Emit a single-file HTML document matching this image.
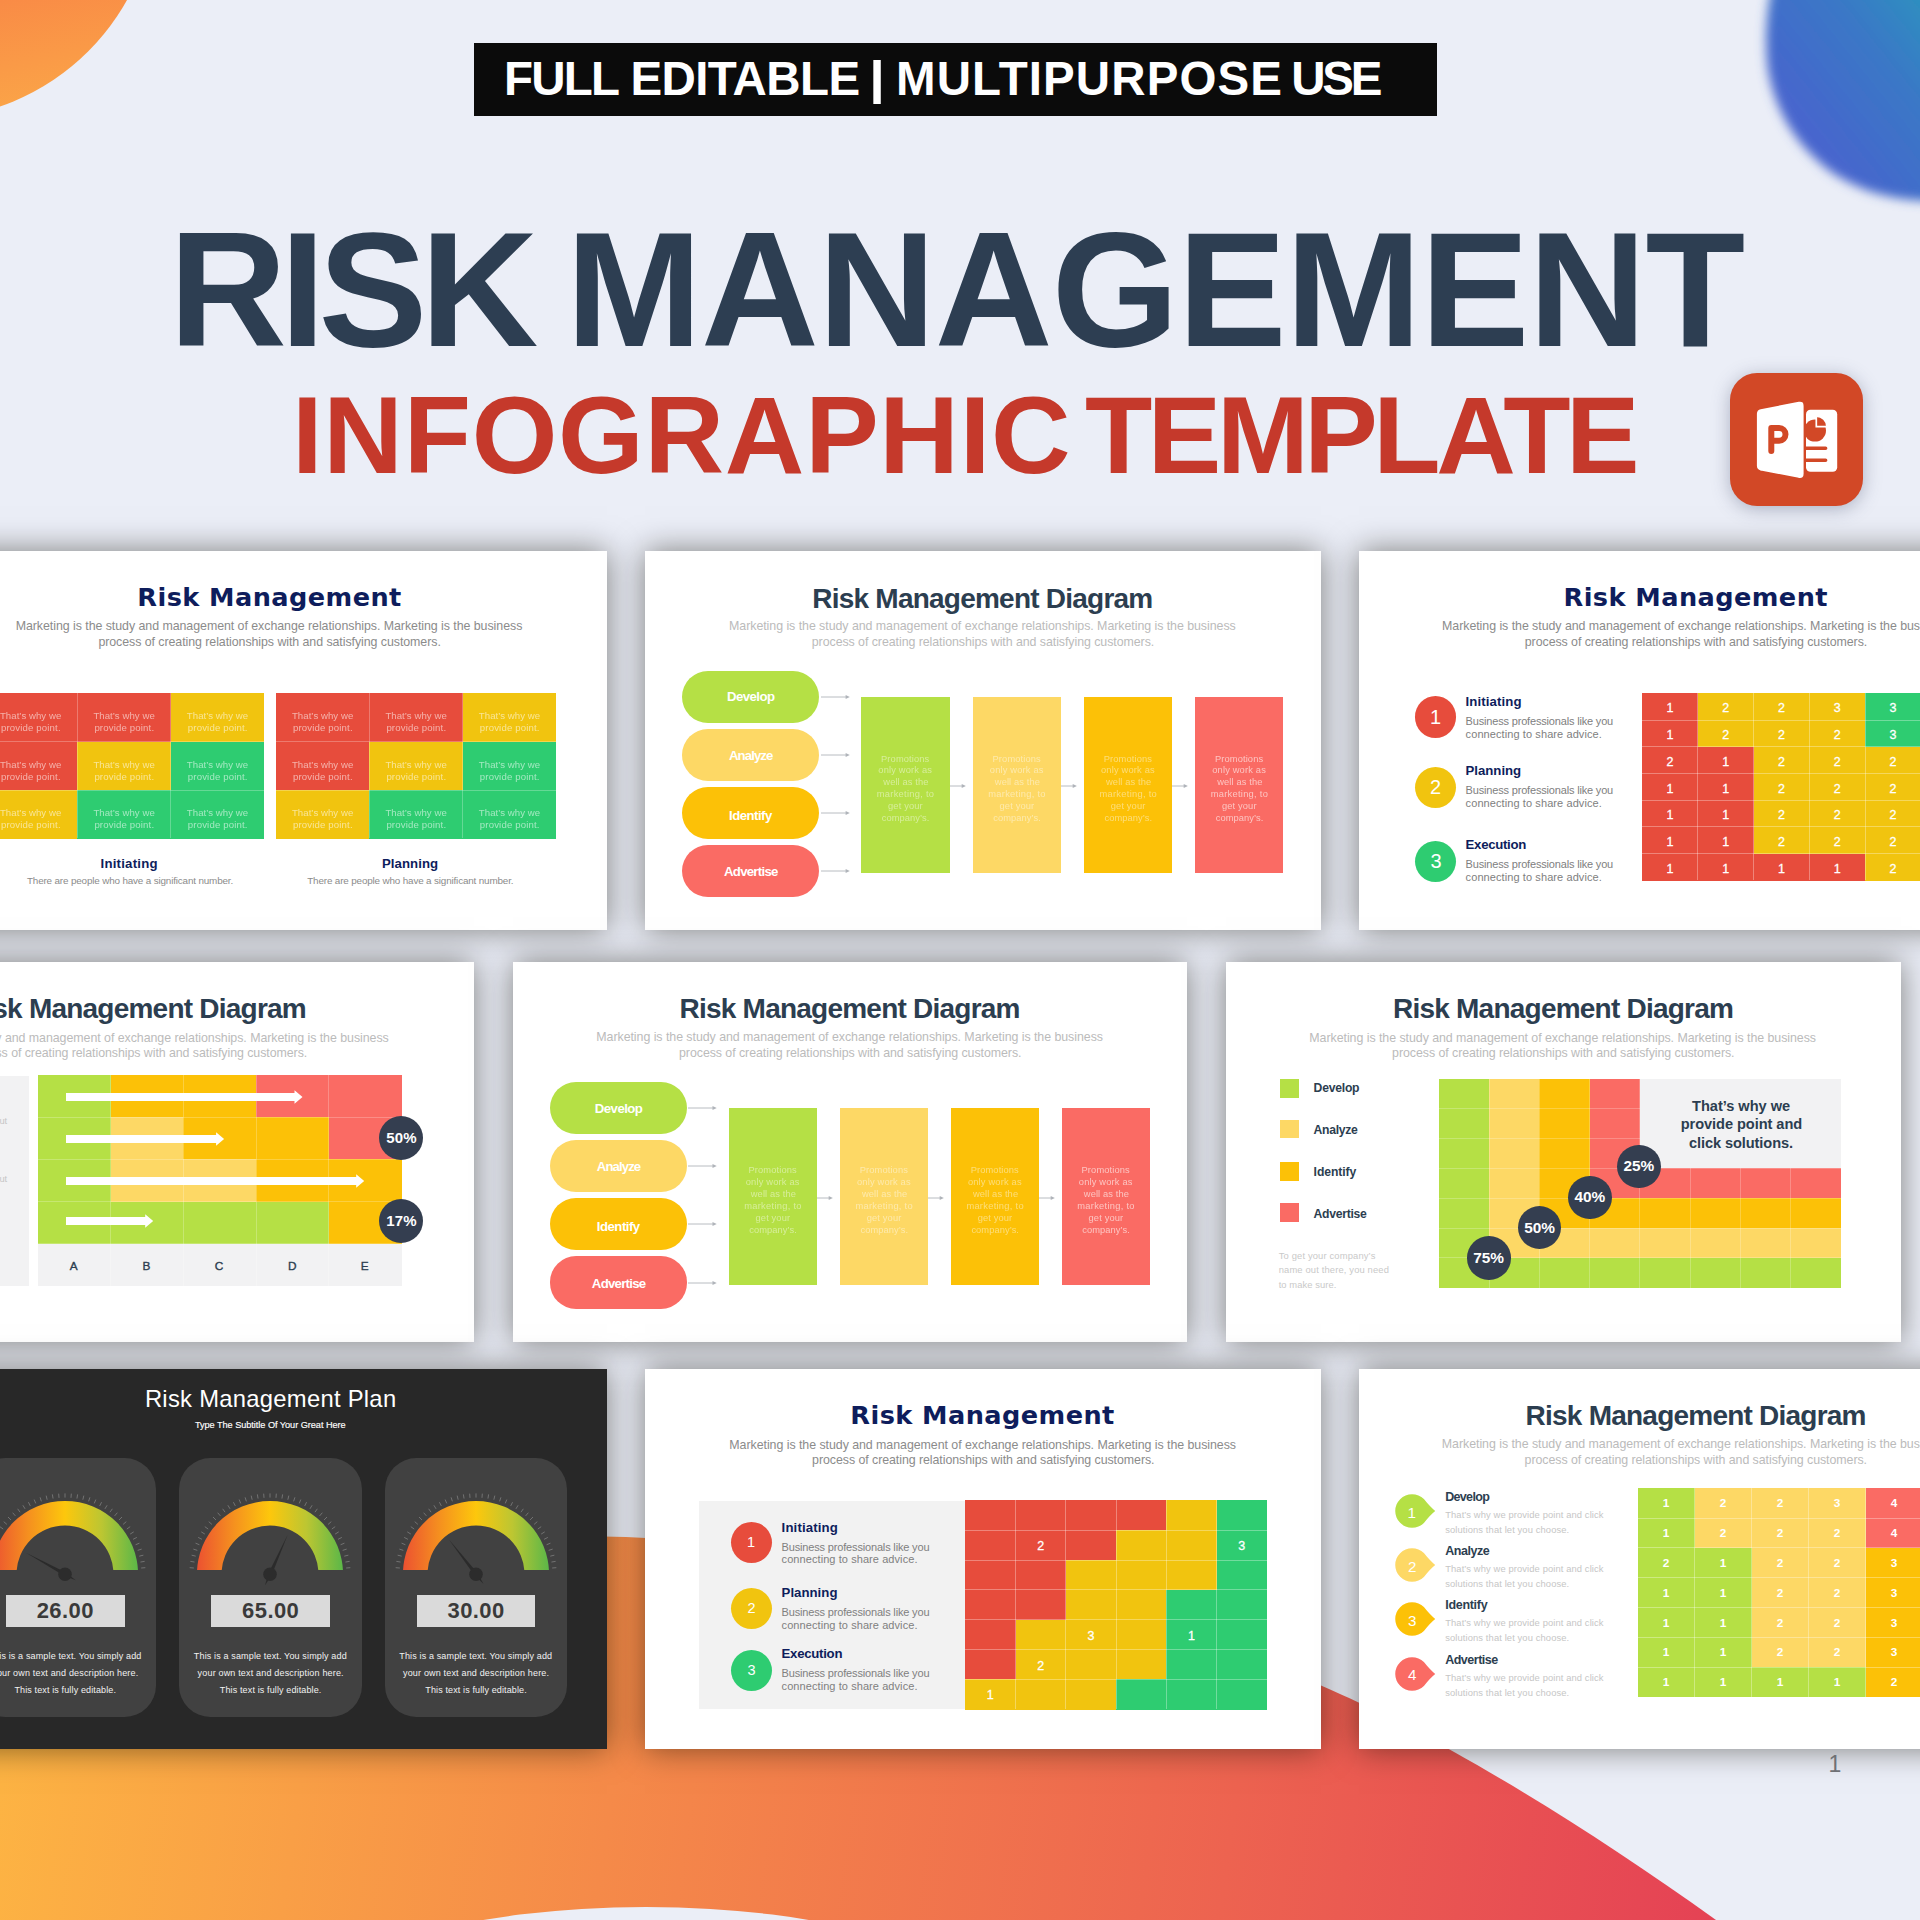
<!DOCTYPE html>
<html lang="en"><head><meta charset="utf-8"><title>Risk Management Infographic Template</title>
<style>
html,body{margin:0;padding:0}
body{width:1920px;height:1920px;overflow:hidden;position:relative;background:#ebeef7;font-family:"Liberation Sans", Arial, sans-serif}
#p{position:absolute;left:0;top:0;width:1920px;height:1920px;overflow:hidden}
#p div,#p svg,#p span{position:absolute;display:block}
.t{white-space:nowrap;line-height:1}
.s{box-shadow:0 0 30px rgba(16,14,4,.5)}
</style></head>
<body><div id="p">
<div style="left:-306px;top:-343.5px;width:462px;height:462px;border-radius:50%;background:linear-gradient(168deg,#f98a46 72%,#fbaa48 98%)"></div>
<svg width="1920" height="1920" viewBox="0 0 1920 1920" style="left:0;top:0">
<defs>
<linearGradient id="gb" x1="0" y1="1" x2="1" y2="0"><stop offset="0.25" stop-color="#4765cd"/><stop offset="0.6" stop-color="#3a78c6"/><stop offset="0.95" stop-color="#279cbc"/></linearGradient>
<linearGradient id="gw" gradientUnits="userSpaceOnUse" x1="0" y1="1700" x2="1750" y2="1950"><stop offset="0" stop-color="#fdb443"/><stop offset="0.35" stop-color="#f58a49"/><stop offset="0.7" stop-color="#ed6350"/><stop offset="1" stop-color="#e43f55"/></linearGradient>
<filter id="bl" x="-20%" y="-20%" width="140%" height="140%"><feGaussianBlur stdDeviation="5.5"/></filter>
</defs>
<path filter="url(#bl)" fill="url(#gb)" d="M1779,-40 C1769,-10 1763,30 1768,70 C1775,110 1794,140 1820,163 C1846,186 1882,199 1925,201 L1960,201 L1960,-40 Z"/>
<path fill="url(#gw)" d="M-10,1600 C200,1545 420,1530 626,1537 C880,1548 1120,1600 1321,1685.5 C1420,1728 1560,1808 1716,1920 L1716,1930 L-10,1930 Z"/>
<ellipse cx="646" cy="2007" rx="330" ry="100" fill="#ebeef7"/>
</svg>
<div style="left:474.00px;top:43.00px;width:962.60px;height:73.00px;background:#0b0b0b;"></div>
<span class="t" style="left:503.90px;top:55.02px;font-size:47.50px;color:#fff;font-weight:700;letter-spacing:-1.778px;">FULL</span>
<span class="t" style="left:630.40px;top:55.02px;font-size:47.50px;color:#fff;font-weight:700;letter-spacing:-0.613px;">EDITABLE</span>
<span class="t" style="left:868.80px;top:55.02px;font-size:46.00px;color:#fff;font-weight:700;transform:scaleX(1.25);transform-origin:0 0;">|</span>
<span class="t" style="left:896.00px;top:55.02px;font-size:47.50px;color:#fff;font-weight:700;letter-spacing:1.103px;">MULTIPURPOSE</span>
<span class="t" style="left:1291.30px;top:55.02px;font-size:47.50px;color:#fff;font-weight:700;letter-spacing:-3.243px;">USE</span>
<span class="t" style="left:169.00px;top:208.02px;font-size:163.20px;color:#2d3e52;font-weight:700;letter-spacing:-6.844px;">RISK</span>
<span class="t" style="left:566.00px;top:208.02px;font-size:163.20px;color:#2d3e52;font-weight:700;letter-spacing:-0.943px;">MANAGEMENT</span>
<span class="t" style="left:292.00px;top:380.02px;font-size:110.20px;color:#c5392b;font-weight:700;letter-spacing:0.726px;">INFOGRAPHIC</span>
<span class="t" style="left:1085.00px;top:380.02px;font-size:110.20px;color:#c5392b;font-weight:700;letter-spacing:-4.442px;">TEMPLATE</span>
<div style="left:1730px;top:372.7px;width:133px;height:133.3px;border-radius:27px;background:#d24826;box-shadow:0 3px 18px rgba(70,80,110,.38)"></div>
<svg width="133" height="134" viewBox="1730 372.7 133 134" style="left:1730px;top:372.7px">
<rect x="1806" y="409.4" width="31.2" height="62" rx="4.5" fill="#fff"/>
<circle cx="1815" cy="430.3" r="11" fill="#d24826"/>
<path d="M1816.3,426.4 V415.8 A10.6,10.6 0 0 1 1826.9,426.4 Z" fill="#d24826" stroke="#fff" stroke-width="1.7"/>
<path d="M1806,447.9 H1825.6 M1806,459.9 H1825.6" stroke="#d24826" stroke-width="3.6" stroke-linecap="round"/>
<path d="M1760.5,408 L1798.5,400.6 Q1804.5,399.6 1804.5,405.6 V473.4 Q1804.5,479.4 1798.5,478.4 L1760.5,471 Q1756,470 1756,465.5 V413.5 Q1756,409 1760.5,408 Z" fill="#fff" stroke="#d24826" stroke-width="1.8"/>
<path d="M1771.3,450.6 V427.6 H1779.1 A6.4,6.4 0 0 1 1779.1,440.4 H1771.3" fill="none" stroke="#d24826" stroke-width="6" stroke-linecap="round" stroke-linejoin="round"/>
</svg>
<div class="s" style="left:-69.20px;top:550.80px;width:676.4px;height:379.5px;background:#fff"></div>
<span class="t" style="left:137.30px;top:585.02px;font-size:25.60px;color:#0e1d5c;font-weight:700;letter-spacing:0.428px;font-family:'DejaVu Sans', 'Liberation Sans', sans-serif;">Risk Management</span>
<span class="t" style="left:15.65px;top:620.02px;font-size:12.40px;color:#8b8b8b;letter-spacing:-0.049px;">Marketing is the study and management of exchange relationships. Marketing is the business</span>
<span class="t" style="left:98.40px;top:636.02px;font-size:12.40px;color:#8b8b8b;letter-spacing:-0.063px;">process of creating relationships with and satisfying customers.</span>
<div style="left:-16.30px;top:693.30px;width:187.20px;height:48.65px;background:#e74c3c;"></div>
<div style="left:170.60px;top:693.30px;width:93.75px;height:48.65px;background:#f1c40f;"></div>
<div style="left:-16.30px;top:741.65px;width:93.75px;height:48.65px;background:#e74c3c;"></div>
<div style="left:77.15px;top:741.65px;width:93.75px;height:48.65px;background:#f1c40f;"></div>
<div style="left:170.60px;top:741.65px;width:93.75px;height:48.65px;background:#2ecc71;"></div>
<div style="left:-16.30px;top:790.00px;width:93.75px;height:48.65px;background:#f1c40f;"></div>
<div style="left:77.15px;top:790.00px;width:187.20px;height:48.65px;background:#2ecc71;"></div>
<div style="left:76.65px;top:693.30px;width:1.00px;height:145.05px;background:rgba(255,255,255,.26);"></div>
<div style="left:170.10px;top:693.30px;width:1.00px;height:145.05px;background:rgba(255,255,255,.26);"></div>
<div style="left:-16.30px;top:741.15px;width:280.35px;height:1.00px;background:rgba(255,255,255,.26);"></div>
<div style="left:-16.30px;top:789.50px;width:280.35px;height:1.00px;background:rgba(255,255,255,.26);"></div>
<span class="t" style="left:-0.08px;top:711.02px;font-size:9.60px;color:#fff;letter-spacing:0.061px;opacity:0.56;">That’s why we</span>
<span class="t" style="left:0.92px;top:723.02px;font-size:9.60px;color:#fff;letter-spacing:0.159px;opacity:0.56;">provide point.</span>
<span class="t" style="left:93.38px;top:711.02px;font-size:9.60px;color:#fff;letter-spacing:0.061px;opacity:0.56;">That’s why we</span>
<span class="t" style="left:94.38px;top:723.02px;font-size:9.60px;color:#fff;letter-spacing:0.159px;opacity:0.56;">provide point.</span>
<span class="t" style="left:186.82px;top:711.02px;font-size:9.60px;color:#fff;letter-spacing:0.061px;opacity:0.56;">That’s why we</span>
<span class="t" style="left:187.82px;top:723.02px;font-size:9.60px;color:#fff;letter-spacing:0.159px;opacity:0.56;">provide point.</span>
<span class="t" style="left:-0.08px;top:760.02px;font-size:9.60px;color:#fff;letter-spacing:0.061px;opacity:0.56;">That’s why we</span>
<span class="t" style="left:0.92px;top:772.02px;font-size:9.60px;color:#fff;letter-spacing:0.159px;opacity:0.56;">provide point.</span>
<span class="t" style="left:93.38px;top:760.02px;font-size:9.60px;color:#fff;letter-spacing:0.061px;opacity:0.56;">That’s why we</span>
<span class="t" style="left:94.38px;top:772.02px;font-size:9.60px;color:#fff;letter-spacing:0.159px;opacity:0.56;">provide point.</span>
<span class="t" style="left:186.82px;top:760.02px;font-size:9.60px;color:#fff;letter-spacing:0.061px;opacity:0.56;">That’s why we</span>
<span class="t" style="left:187.82px;top:772.02px;font-size:9.60px;color:#fff;letter-spacing:0.159px;opacity:0.56;">provide point.</span>
<span class="t" style="left:-0.08px;top:808.02px;font-size:9.60px;color:#fff;letter-spacing:0.061px;opacity:0.56;">That’s why we</span>
<span class="t" style="left:0.92px;top:820.02px;font-size:9.60px;color:#fff;letter-spacing:0.159px;opacity:0.56;">provide point.</span>
<span class="t" style="left:93.38px;top:808.02px;font-size:9.60px;color:#fff;letter-spacing:0.061px;opacity:0.56;">That’s why we</span>
<span class="t" style="left:94.38px;top:820.02px;font-size:9.60px;color:#fff;letter-spacing:0.159px;opacity:0.56;">provide point.</span>
<span class="t" style="left:186.82px;top:808.02px;font-size:9.60px;color:#fff;letter-spacing:0.061px;opacity:0.56;">That’s why we</span>
<span class="t" style="left:187.82px;top:820.02px;font-size:9.60px;color:#fff;letter-spacing:0.159px;opacity:0.56;">provide point.</span>
<div style="left:275.70px;top:693.30px;width:187.20px;height:48.65px;background:#e74c3c;"></div>
<div style="left:462.60px;top:693.30px;width:93.75px;height:48.65px;background:#f1c40f;"></div>
<div style="left:275.70px;top:741.65px;width:93.75px;height:48.65px;background:#e74c3c;"></div>
<div style="left:369.15px;top:741.65px;width:93.75px;height:48.65px;background:#f1c40f;"></div>
<div style="left:462.60px;top:741.65px;width:93.75px;height:48.65px;background:#2ecc71;"></div>
<div style="left:275.70px;top:790.00px;width:93.75px;height:48.65px;background:#f1c40f;"></div>
<div style="left:369.15px;top:790.00px;width:187.20px;height:48.65px;background:#2ecc71;"></div>
<div style="left:368.65px;top:693.30px;width:1.00px;height:145.05px;background:rgba(255,255,255,.26);"></div>
<div style="left:462.10px;top:693.30px;width:1.00px;height:145.05px;background:rgba(255,255,255,.26);"></div>
<div style="left:275.70px;top:741.15px;width:280.35px;height:1.00px;background:rgba(255,255,255,.26);"></div>
<div style="left:275.70px;top:789.50px;width:280.35px;height:1.00px;background:rgba(255,255,255,.26);"></div>
<span class="t" style="left:291.93px;top:711.02px;font-size:9.60px;color:#fff;letter-spacing:0.061px;opacity:0.56;">That’s why we</span>
<span class="t" style="left:292.93px;top:723.02px;font-size:9.60px;color:#fff;letter-spacing:0.159px;opacity:0.56;">provide point.</span>
<span class="t" style="left:385.38px;top:711.02px;font-size:9.60px;color:#fff;letter-spacing:0.061px;opacity:0.56;">That’s why we</span>
<span class="t" style="left:386.38px;top:723.02px;font-size:9.60px;color:#fff;letter-spacing:0.159px;opacity:0.56;">provide point.</span>
<span class="t" style="left:478.82px;top:711.02px;font-size:9.60px;color:#fff;letter-spacing:0.061px;opacity:0.56;">That’s why we</span>
<span class="t" style="left:479.82px;top:723.02px;font-size:9.60px;color:#fff;letter-spacing:0.159px;opacity:0.56;">provide point.</span>
<span class="t" style="left:291.93px;top:760.02px;font-size:9.60px;color:#fff;letter-spacing:0.061px;opacity:0.56;">That’s why we</span>
<span class="t" style="left:292.93px;top:772.02px;font-size:9.60px;color:#fff;letter-spacing:0.159px;opacity:0.56;">provide point.</span>
<span class="t" style="left:385.38px;top:760.02px;font-size:9.60px;color:#fff;letter-spacing:0.061px;opacity:0.56;">That’s why we</span>
<span class="t" style="left:386.38px;top:772.02px;font-size:9.60px;color:#fff;letter-spacing:0.159px;opacity:0.56;">provide point.</span>
<span class="t" style="left:478.82px;top:760.02px;font-size:9.60px;color:#fff;letter-spacing:0.061px;opacity:0.56;">That’s why we</span>
<span class="t" style="left:479.82px;top:772.02px;font-size:9.60px;color:#fff;letter-spacing:0.159px;opacity:0.56;">provide point.</span>
<span class="t" style="left:291.93px;top:808.02px;font-size:9.60px;color:#fff;letter-spacing:0.061px;opacity:0.56;">That’s why we</span>
<span class="t" style="left:292.93px;top:820.02px;font-size:9.60px;color:#fff;letter-spacing:0.159px;opacity:0.56;">provide point.</span>
<span class="t" style="left:385.38px;top:808.02px;font-size:9.60px;color:#fff;letter-spacing:0.061px;opacity:0.56;">That’s why we</span>
<span class="t" style="left:386.38px;top:820.02px;font-size:9.60px;color:#fff;letter-spacing:0.159px;opacity:0.56;">provide point.</span>
<span class="t" style="left:478.82px;top:808.02px;font-size:9.60px;color:#fff;letter-spacing:0.061px;opacity:0.56;">That’s why we</span>
<span class="t" style="left:479.82px;top:820.02px;font-size:9.60px;color:#fff;letter-spacing:0.159px;opacity:0.56;">provide point.</span>
<span class="t" style="left:100.50px;top:857.02px;font-size:13.20px;color:#0e1d5c;font-weight:700;letter-spacing:0.235px;">Initiating</span>
<span class="t" style="left:382.00px;top:857.02px;font-size:13.20px;color:#0e1d5c;font-weight:700;letter-spacing:0.054px;">Planning</span>
<span class="t" style="left:26.95px;top:876.02px;font-size:9.90px;color:#8b8b8b;letter-spacing:-0.159px;">There are people who have a significant number.</span>
<span class="t" style="left:307.25px;top:876.02px;font-size:9.90px;color:#8b8b8b;letter-spacing:-0.159px;">There are people who have a significant number.</span>
<div class="s" style="left:644.80px;top:550.80px;width:676.4px;height:379.5px;background:#fff"></div>
<span class="t" style="left:812.30px;top:585.02px;font-size:28.00px;color:#2c3e50;font-weight:700;letter-spacing:-0.772px;">Risk Management Diagram</span>
<span class="t" style="left:729.05px;top:620.02px;font-size:12.40px;color:#bbbbbb;letter-spacing:-0.049px;">Marketing is the study and management of exchange relationships. Marketing is the business</span>
<span class="t" style="left:811.80px;top:636.02px;font-size:12.40px;color:#bbbbbb;letter-spacing:-0.063px;">process of creating relationships with and satisfying customers.</span>
<div style="left:682.30px;top:670.60px;width:137.00px;height:52.2px;border-radius:26.1px;background:#b5e045"></div>
<span class="t" style="left:727.00px;top:690.02px;font-size:13.20px;color:#fff;font-weight:700;letter-spacing:-0.541px;">Develop</span>
<svg width="30.80" height="8" viewBox="0 0 30.80 8" style="left:820.60px;top:692.70px"><path d="M0,4 H25.80" stroke="#b0b4ba" stroke-width=".9" fill="none"/><path d="M24.60,1.9 L28.80,4 L24.60,6.1 Z" fill="#b0b4ba"/></svg>
<div style="left:682.30px;top:728.70px;width:137.00px;height:52.2px;border-radius:26.1px;background:#fdd865"></div>
<span class="t" style="left:729.00px;top:749.02px;font-size:13.20px;color:#fff;font-weight:700;letter-spacing:-0.918px;">Analyze</span>
<svg width="30.80" height="8" viewBox="0 0 30.80 8" style="left:820.60px;top:750.80px"><path d="M0,4 H25.80" stroke="#b0b4ba" stroke-width=".9" fill="none"/><path d="M24.60,1.9 L28.80,4 L24.60,6.1 Z" fill="#b0b4ba"/></svg>
<div style="left:682.30px;top:786.80px;width:137.00px;height:52.2px;border-radius:26.1px;background:#fcc107"></div>
<span class="t" style="left:729.00px;top:809.02px;font-size:13.20px;color:#fff;font-weight:700;letter-spacing:-0.508px;">Identify</span>
<svg width="30.80" height="8" viewBox="0 0 30.80 8" style="left:820.60px;top:808.90px"><path d="M0,4 H25.80" stroke="#b0b4ba" stroke-width=".9" fill="none"/><path d="M24.60,1.9 L28.80,4 L24.60,6.1 Z" fill="#b0b4ba"/></svg>
<div style="left:682.30px;top:844.90px;width:137.00px;height:52.2px;border-radius:26.1px;background:#fa6b64"></div>
<span class="t" style="left:724.00px;top:865.02px;font-size:13.20px;color:#fff;font-weight:700;letter-spacing:-0.721px;">Advertise</span>
<svg width="30.80" height="8" viewBox="0 0 30.80 8" style="left:820.60px;top:867.00px"><path d="M0,4 H25.80" stroke="#b0b4ba" stroke-width=".9" fill="none"/><path d="M24.60,1.9 L28.80,4 L24.60,6.1 Z" fill="#b0b4ba"/></svg>
<div style="left:861.00px;top:696.80px;width:88.50px;height:176.50px;background:#b5e045;"></div>
<span class="t" style="left:881.05px;top:755.02px;font-size:9.30px;color:#fff;letter-spacing:0.125px;opacity:0.45;">Promotions</span>
<span class="t" style="left:878.30px;top:766.02px;font-size:9.30px;color:#fff;letter-spacing:0.180px;opacity:0.45;">only work as</span>
<span class="t" style="left:883.30px;top:778.02px;font-size:9.30px;color:#fff;letter-spacing:0.125px;opacity:0.45;">well as the</span>
<span class="t" style="left:876.80px;top:790.02px;font-size:9.30px;color:#fff;letter-spacing:0.286px;opacity:0.45;">marketing, to</span>
<span class="t" style="left:888.05px;top:802.02px;font-size:9.30px;color:#fff;letter-spacing:0.143px;opacity:0.45;">get your</span>
<span class="t" style="left:881.80px;top:814.02px;font-size:9.30px;color:#fff;letter-spacing:0.081px;opacity:0.45;">company’s.</span>
<svg width="17.90" height="8" viewBox="0 0 17.90 8" style="left:949.50px;top:782.40px"><path d="M0,4 H12.90" stroke="#b0b4ba" stroke-width=".9" fill="none"/><path d="M11.70,1.9 L15.90,4 L11.70,6.1 Z" fill="#b0b4ba"/></svg>
<div style="left:972.50px;top:696.80px;width:88.50px;height:176.50px;background:#fdd865;"></div>
<span class="t" style="left:992.55px;top:755.02px;font-size:9.30px;color:#fff;letter-spacing:0.125px;opacity:0.45;">Promotions</span>
<span class="t" style="left:989.80px;top:766.02px;font-size:9.30px;color:#fff;letter-spacing:0.180px;opacity:0.45;">only work as</span>
<span class="t" style="left:994.80px;top:778.02px;font-size:9.30px;color:#fff;letter-spacing:0.125px;opacity:0.45;">well as the</span>
<span class="t" style="left:988.30px;top:790.02px;font-size:9.30px;color:#fff;letter-spacing:0.286px;opacity:0.45;">marketing, to</span>
<span class="t" style="left:999.55px;top:802.02px;font-size:9.30px;color:#fff;letter-spacing:0.143px;opacity:0.45;">get your</span>
<span class="t" style="left:993.30px;top:814.02px;font-size:9.30px;color:#fff;letter-spacing:0.081px;opacity:0.45;">company’s.</span>
<svg width="17.90" height="8" viewBox="0 0 17.90 8" style="left:1061.00px;top:782.40px"><path d="M0,4 H12.90" stroke="#b0b4ba" stroke-width=".9" fill="none"/><path d="M11.70,1.9 L15.90,4 L11.70,6.1 Z" fill="#b0b4ba"/></svg>
<div style="left:1083.70px;top:696.80px;width:88.50px;height:176.50px;background:#fcc107;"></div>
<span class="t" style="left:1103.75px;top:755.02px;font-size:9.30px;color:#fff;letter-spacing:0.125px;opacity:0.45;">Promotions</span>
<span class="t" style="left:1101.00px;top:766.02px;font-size:9.30px;color:#fff;letter-spacing:0.180px;opacity:0.45;">only work as</span>
<span class="t" style="left:1106.00px;top:778.02px;font-size:9.30px;color:#fff;letter-spacing:0.125px;opacity:0.45;">well as the</span>
<span class="t" style="left:1099.50px;top:790.02px;font-size:9.30px;color:#fff;letter-spacing:0.286px;opacity:0.45;">marketing, to</span>
<span class="t" style="left:1110.75px;top:802.02px;font-size:9.30px;color:#fff;letter-spacing:0.143px;opacity:0.45;">get your</span>
<span class="t" style="left:1104.50px;top:814.02px;font-size:9.30px;color:#fff;letter-spacing:0.081px;opacity:0.45;">company’s.</span>
<svg width="17.90" height="8" viewBox="0 0 17.90 8" style="left:1172.20px;top:782.40px"><path d="M0,4 H12.90" stroke="#b0b4ba" stroke-width=".9" fill="none"/><path d="M11.70,1.9 L15.90,4 L11.70,6.1 Z" fill="#b0b4ba"/></svg>
<div style="left:1194.90px;top:696.80px;width:88.50px;height:176.50px;background:#fa6b64;"></div>
<span class="t" style="left:1214.95px;top:755.02px;font-size:9.30px;color:#fff;letter-spacing:0.125px;opacity:0.6;">Promotions</span>
<span class="t" style="left:1212.20px;top:766.02px;font-size:9.30px;color:#fff;letter-spacing:0.180px;opacity:0.6;">only work as</span>
<span class="t" style="left:1217.20px;top:778.02px;font-size:9.30px;color:#fff;letter-spacing:0.125px;opacity:0.6;">well as the</span>
<span class="t" style="left:1210.70px;top:790.02px;font-size:9.30px;color:#fff;letter-spacing:0.286px;opacity:0.6;">marketing, to</span>
<span class="t" style="left:1221.95px;top:802.02px;font-size:9.30px;color:#fff;letter-spacing:0.143px;opacity:0.6;">get your</span>
<span class="t" style="left:1215.70px;top:814.02px;font-size:9.30px;color:#fff;letter-spacing:0.081px;opacity:0.6;">company’s.</span>
<div class="s" style="left:1358.90px;top:550.80px;width:676.4px;height:379.5px;background:#fff"></div>
<span class="t" style="left:1563.50px;top:585.02px;font-size:25.60px;color:#0e1d5c;font-weight:700;letter-spacing:0.428px;font-family:'DejaVu Sans', 'Liberation Sans', sans-serif;">Risk Management</span>
<span class="t" style="left:1442.05px;top:620.02px;font-size:12.40px;color:#8b8b8b;letter-spacing:-0.049px;">Marketing is the study and management of exchange relationships. Marketing is the business</span>
<span class="t" style="left:1524.80px;top:636.02px;font-size:12.40px;color:#8b8b8b;letter-spacing:-0.063px;">process of creating relationships with and satisfying customers.</span>
<div style="left:1415.05px;top:696.20px;width:41.4px;height:41.4px;border-radius:50%;background:#e74c3c"></div>
<span class="t" style="left:1429.90px;top:707.02px;font-size:20.00px;color:#fff;">1</span>
<span class="t" style="left:1465.60px;top:695.02px;font-size:13.20px;color:#0e1d5c;font-weight:700;letter-spacing:0.113px;">Initiating</span>
<span class="t" style="left:1465.60px;top:716.02px;font-size:11.00px;color:#808080;letter-spacing:-0.175px;">Business professionals like you</span>
<span class="t" style="left:1465.60px;top:729.02px;font-size:11.00px;color:#808080;letter-spacing:0.090px;">connecting to share advice.</span>
<div style="left:1415.05px;top:766.80px;width:41.4px;height:41.4px;border-radius:50%;background:#f1c40f"></div>
<span class="t" style="left:1429.90px;top:777.02px;font-size:20.00px;color:#fff;">2</span>
<span class="t" style="left:1465.60px;top:764.02px;font-size:13.20px;color:#0e1d5c;font-weight:700;letter-spacing:-0.018px;">Planning</span>
<span class="t" style="left:1465.60px;top:785.02px;font-size:11.00px;color:#808080;letter-spacing:-0.175px;">Business professionals like you</span>
<span class="t" style="left:1465.60px;top:798.02px;font-size:11.00px;color:#808080;letter-spacing:0.090px;">connecting to share advice.</span>
<div style="left:1415.05px;top:840.90px;width:41.4px;height:41.4px;border-radius:50%;background:#2ecc71"></div>
<span class="t" style="left:1430.40px;top:851.02px;font-size:20.00px;color:#fff;">3</span>
<span class="t" style="left:1465.60px;top:838.02px;font-size:13.20px;color:#0e1d5c;font-weight:700;letter-spacing:-0.296px;">Execution</span>
<span class="t" style="left:1465.60px;top:859.02px;font-size:11.00px;color:#808080;letter-spacing:-0.175px;">Business professionals like you</span>
<span class="t" style="left:1465.60px;top:872.02px;font-size:11.00px;color:#808080;letter-spacing:0.090px;">connecting to share advice.</span>
<div style="left:1642.10px;top:693.30px;width:56.08px;height:27.02px;background:#e74c3c;"></div>
<div style="left:1697.88px;top:693.30px;width:167.64px;height:27.02px;background:#f1c40f;"></div>
<div style="left:1865.22px;top:693.30px;width:111.86px;height:27.02px;background:#2ecc71;"></div>
<div style="left:1642.10px;top:720.02px;width:56.08px;height:27.02px;background:#e74c3c;"></div>
<div style="left:1697.88px;top:720.02px;width:167.64px;height:27.02px;background:#f1c40f;"></div>
<div style="left:1865.22px;top:720.02px;width:111.86px;height:27.02px;background:#2ecc71;"></div>
<div style="left:1642.10px;top:746.74px;width:111.86px;height:27.02px;background:#e74c3c;"></div>
<div style="left:1753.66px;top:746.74px;width:167.64px;height:27.02px;background:#f1c40f;"></div>
<div style="left:1921.00px;top:746.74px;width:56.08px;height:27.02px;background:#2ecc71;"></div>
<div style="left:1642.10px;top:773.46px;width:111.86px;height:27.02px;background:#e74c3c;"></div>
<div style="left:1753.66px;top:773.46px;width:167.64px;height:27.02px;background:#f1c40f;"></div>
<div style="left:1921.00px;top:773.46px;width:56.08px;height:27.02px;background:#2ecc71;"></div>
<div style="left:1642.10px;top:800.18px;width:111.86px;height:27.02px;background:#e74c3c;"></div>
<div style="left:1753.66px;top:800.18px;width:167.64px;height:27.02px;background:#f1c40f;"></div>
<div style="left:1921.00px;top:800.18px;width:56.08px;height:27.02px;background:#2ecc71;"></div>
<div style="left:1642.10px;top:826.90px;width:111.86px;height:27.02px;background:#e74c3c;"></div>
<div style="left:1753.66px;top:826.90px;width:167.64px;height:27.02px;background:#f1c40f;"></div>
<div style="left:1921.00px;top:826.90px;width:56.08px;height:27.02px;background:#2ecc71;"></div>
<div style="left:1642.10px;top:853.62px;width:223.42px;height:27.02px;background:#e74c3c;"></div>
<div style="left:1865.22px;top:853.62px;width:111.86px;height:27.02px;background:#f1c40f;"></div>
<div style="left:1697.38px;top:693.30px;width:1.00px;height:187.04px;background:rgba(255,255,255,.32);"></div>
<div style="left:1753.16px;top:693.30px;width:1.00px;height:187.04px;background:rgba(255,255,255,.32);"></div>
<div style="left:1808.94px;top:693.30px;width:1.00px;height:187.04px;background:rgba(255,255,255,.32);"></div>
<div style="left:1864.72px;top:693.30px;width:1.00px;height:187.04px;background:rgba(255,255,255,.32);"></div>
<div style="left:1920.50px;top:693.30px;width:1.00px;height:187.04px;background:rgba(255,255,255,.32);"></div>
<div style="left:1642.10px;top:719.52px;width:334.68px;height:1.00px;background:rgba(255,255,255,.32);"></div>
<div style="left:1642.10px;top:746.24px;width:334.68px;height:1.00px;background:rgba(255,255,255,.32);"></div>
<div style="left:1642.10px;top:772.96px;width:334.68px;height:1.00px;background:rgba(255,255,255,.32);"></div>
<div style="left:1642.10px;top:799.68px;width:334.68px;height:1.00px;background:rgba(255,255,255,.32);"></div>
<div style="left:1642.10px;top:826.40px;width:334.68px;height:1.00px;background:rgba(255,255,255,.32);"></div>
<div style="left:1642.10px;top:853.12px;width:334.68px;height:1.00px;background:rgba(255,255,255,.32);"></div>
<span class="t" style="left:1666.49px;top:702.02px;font-size:12.50px;color:#fff;-webkit-text-stroke:0.3px #fff;">1</span>
<span class="t" style="left:1722.27px;top:702.02px;font-size:12.50px;color:#fff;-webkit-text-stroke:0.3px #fff;">2</span>
<span class="t" style="left:1778.05px;top:702.02px;font-size:12.50px;color:#fff;-webkit-text-stroke:0.3px #fff;">2</span>
<span class="t" style="left:1833.83px;top:702.02px;font-size:12.50px;color:#fff;-webkit-text-stroke:0.3px #fff;">3</span>
<span class="t" style="left:1889.61px;top:702.02px;font-size:12.50px;color:#fff;-webkit-text-stroke:0.3px #fff;">3</span>
<span class="t" style="left:1945.39px;top:702.02px;font-size:12.50px;color:#fff;-webkit-text-stroke:0.3px #fff;">3</span>
<span class="t" style="left:1666.49px;top:729.02px;font-size:12.50px;color:#fff;-webkit-text-stroke:0.3px #fff;">1</span>
<span class="t" style="left:1722.27px;top:729.02px;font-size:12.50px;color:#fff;-webkit-text-stroke:0.3px #fff;">2</span>
<span class="t" style="left:1778.05px;top:729.02px;font-size:12.50px;color:#fff;-webkit-text-stroke:0.3px #fff;">2</span>
<span class="t" style="left:1833.83px;top:729.02px;font-size:12.50px;color:#fff;-webkit-text-stroke:0.3px #fff;">2</span>
<span class="t" style="left:1889.61px;top:729.02px;font-size:12.50px;color:#fff;-webkit-text-stroke:0.3px #fff;">3</span>
<span class="t" style="left:1945.39px;top:729.02px;font-size:12.50px;color:#fff;-webkit-text-stroke:0.3px #fff;">3</span>
<span class="t" style="left:1666.49px;top:756.02px;font-size:12.50px;color:#fff;-webkit-text-stroke:0.3px #fff;">2</span>
<span class="t" style="left:1722.27px;top:756.02px;font-size:12.50px;color:#fff;-webkit-text-stroke:0.3px #fff;">1</span>
<span class="t" style="left:1778.05px;top:756.02px;font-size:12.50px;color:#fff;-webkit-text-stroke:0.3px #fff;">2</span>
<span class="t" style="left:1833.83px;top:756.02px;font-size:12.50px;color:#fff;-webkit-text-stroke:0.3px #fff;">2</span>
<span class="t" style="left:1889.61px;top:756.02px;font-size:12.50px;color:#fff;-webkit-text-stroke:0.3px #fff;">2</span>
<span class="t" style="left:1945.39px;top:756.02px;font-size:12.50px;color:#fff;-webkit-text-stroke:0.3px #fff;">3</span>
<span class="t" style="left:1666.49px;top:783.02px;font-size:12.50px;color:#fff;-webkit-text-stroke:0.3px #fff;">1</span>
<span class="t" style="left:1722.27px;top:783.02px;font-size:12.50px;color:#fff;-webkit-text-stroke:0.3px #fff;">1</span>
<span class="t" style="left:1778.05px;top:783.02px;font-size:12.50px;color:#fff;-webkit-text-stroke:0.3px #fff;">2</span>
<span class="t" style="left:1833.83px;top:783.02px;font-size:12.50px;color:#fff;-webkit-text-stroke:0.3px #fff;">2</span>
<span class="t" style="left:1889.61px;top:783.02px;font-size:12.50px;color:#fff;-webkit-text-stroke:0.3px #fff;">2</span>
<span class="t" style="left:1945.39px;top:783.02px;font-size:12.50px;color:#fff;-webkit-text-stroke:0.3px #fff;">3</span>
<span class="t" style="left:1666.49px;top:809.02px;font-size:12.50px;color:#fff;-webkit-text-stroke:0.3px #fff;">1</span>
<span class="t" style="left:1722.27px;top:809.02px;font-size:12.50px;color:#fff;-webkit-text-stroke:0.3px #fff;">1</span>
<span class="t" style="left:1778.05px;top:809.02px;font-size:12.50px;color:#fff;-webkit-text-stroke:0.3px #fff;">2</span>
<span class="t" style="left:1833.83px;top:809.02px;font-size:12.50px;color:#fff;-webkit-text-stroke:0.3px #fff;">2</span>
<span class="t" style="left:1889.61px;top:809.02px;font-size:12.50px;color:#fff;-webkit-text-stroke:0.3px #fff;">2</span>
<span class="t" style="left:1945.39px;top:809.02px;font-size:12.50px;color:#fff;-webkit-text-stroke:0.3px #fff;">3</span>
<span class="t" style="left:1666.49px;top:836.02px;font-size:12.50px;color:#fff;-webkit-text-stroke:0.3px #fff;">1</span>
<span class="t" style="left:1722.27px;top:836.02px;font-size:12.50px;color:#fff;-webkit-text-stroke:0.3px #fff;">1</span>
<span class="t" style="left:1778.05px;top:836.02px;font-size:12.50px;color:#fff;-webkit-text-stroke:0.3px #fff;">2</span>
<span class="t" style="left:1833.83px;top:836.02px;font-size:12.50px;color:#fff;-webkit-text-stroke:0.3px #fff;">2</span>
<span class="t" style="left:1889.61px;top:836.02px;font-size:12.50px;color:#fff;-webkit-text-stroke:0.3px #fff;">2</span>
<span class="t" style="left:1945.39px;top:836.02px;font-size:12.50px;color:#fff;-webkit-text-stroke:0.3px #fff;">3</span>
<span class="t" style="left:1666.49px;top:863.02px;font-size:12.50px;color:#fff;-webkit-text-stroke:0.3px #fff;">1</span>
<span class="t" style="left:1722.27px;top:863.02px;font-size:12.50px;color:#fff;-webkit-text-stroke:0.3px #fff;">1</span>
<span class="t" style="left:1778.05px;top:863.02px;font-size:12.50px;color:#fff;-webkit-text-stroke:0.3px #fff;">1</span>
<span class="t" style="left:1833.83px;top:863.02px;font-size:12.50px;color:#fff;-webkit-text-stroke:0.3px #fff;">1</span>
<span class="t" style="left:1889.61px;top:863.02px;font-size:12.50px;color:#fff;-webkit-text-stroke:0.3px #fff;">2</span>
<span class="t" style="left:1945.39px;top:863.02px;font-size:12.50px;color:#fff;-webkit-text-stroke:0.3px #fff;">2</span>
<div class="s" style="left:-202.40px;top:961.60px;width:676.4px;height:380.3px;background:#fff"></div>
<span class="t" style="left:-34.20px;top:995.02px;font-size:28.00px;color:#2c3e50;font-weight:700;letter-spacing:-0.772px;">Risk Management Diagram</span>
<span class="t" style="left:-117.95px;top:1032.02px;font-size:12.40px;color:#bbbbbb;letter-spacing:-0.049px;">Marketing is the study and management of exchange relationships. Marketing is the business</span>
<span class="t" style="left:-35.20px;top:1047.02px;font-size:12.40px;color:#bbbbbb;letter-spacing:-0.063px;">process of creating relationships with and satisfying customers.</span>
<div style="left:-162.40px;top:1075.80px;width:191.60px;height:210.10px;background:#f2f2f3;"></div>
<span class="t" style="left:-114.61px;top:1117.02px;font-size:9.30px;color:#c6c6c6;">get your company’s name out</span>
<span class="t" style="left:-114.61px;top:1175.02px;font-size:9.30px;color:#c6c6c6;">get your company’s name out</span>
<div style="left:38.00px;top:1075.00px;width:73.00px;height:42.50px;background:#b5e045;"></div>
<div style="left:110.70px;top:1075.00px;width:145.70px;height:42.50px;background:#fcc107;"></div>
<div style="left:256.10px;top:1075.00px;width:145.70px;height:42.50px;background:#fa6b64;"></div>
<div style="left:38.00px;top:1117.20px;width:73.00px;height:42.50px;background:#b5e045;"></div>
<div style="left:110.70px;top:1117.20px;width:73.00px;height:42.50px;background:#fdd865;"></div>
<div style="left:183.40px;top:1117.20px;width:145.70px;height:42.50px;background:#fcc107;"></div>
<div style="left:328.80px;top:1117.20px;width:73.00px;height:42.50px;background:#fa6b64;"></div>
<div style="left:38.00px;top:1159.40px;width:73.00px;height:42.50px;background:#b5e045;"></div>
<div style="left:110.70px;top:1159.40px;width:145.70px;height:42.50px;background:#fdd865;"></div>
<div style="left:256.10px;top:1159.40px;width:145.70px;height:42.50px;background:#fcc107;"></div>
<div style="left:38.00px;top:1201.60px;width:291.10px;height:42.50px;background:#b5e045;"></div>
<div style="left:328.80px;top:1201.60px;width:73.00px;height:42.50px;background:#fcc107;"></div>
<div style="left:38.00px;top:1243.80px;width:363.80px;height:42.50px;background:#f2f2f3;"></div>
<div style="left:110.20px;top:1075.00px;width:1.00px;height:211.00px;background:rgba(255,255,255,.23);"></div>
<div style="left:182.90px;top:1075.00px;width:1.00px;height:211.00px;background:rgba(255,255,255,.23);"></div>
<div style="left:255.60px;top:1075.00px;width:1.00px;height:211.00px;background:rgba(255,255,255,.23);"></div>
<div style="left:328.30px;top:1075.00px;width:1.00px;height:211.00px;background:rgba(255,255,255,.23);"></div>
<div style="left:38.00px;top:1116.70px;width:363.50px;height:1.00px;background:rgba(255,255,255,.23);"></div>
<div style="left:38.00px;top:1158.90px;width:363.50px;height:1.00px;background:rgba(255,255,255,.23);"></div>
<div style="left:38.00px;top:1201.10px;width:363.50px;height:1.00px;background:rgba(255,255,255,.23);"></div>
<div style="left:38.00px;top:1243.30px;width:363.50px;height:1.00px;background:rgba(255,255,255,.23);"></div>
<svg width="320" height="16" viewBox="0 0 320 16" style="left:66.40px;top:1089.40px"><path d="M0,4.1 H228.5 V1.2 L236.5,8 L228.5,14.8 V11.9 H0 Z" fill="#fff"/></svg>
<svg width="320" height="16" viewBox="0 0 320 16" style="left:66.40px;top:1130.60px"><path d="M0,4.1 H150.1 V1.2 L158.1,8 L150.1,14.8 V11.9 H0 Z" fill="#fff"/></svg>
<svg width="320" height="16" viewBox="0 0 320 16" style="left:66.40px;top:1173.00px"><path d="M0,4.1 H290.2 V1.2 L298.2,8 L290.2,14.8 V11.9 H0 Z" fill="#fff"/></svg>
<svg width="320" height="16" viewBox="0 0 320 16" style="left:66.40px;top:1213.00px"><path d="M0,4.1 H79.2 V1.2 L87.2,8 L79.2,14.8 V11.9 H0 Z" fill="#fff"/></svg>
<div style="left:379.30px;top:1116.00px;width:44px;height:44px;border-radius:50%;background:#343e50"></div>
<span class="t" style="left:386.30px;top:1130.02px;font-size:15.00px;color:#fff;font-weight:700;letter-spacing:0.158px;">50%</span>
<div style="left:379.30px;top:1199.00px;width:44px;height:44px;border-radius:50%;background:#343e50"></div>
<span class="t" style="left:386.30px;top:1213.02px;font-size:15.00px;color:#fff;font-weight:700;letter-spacing:0.158px;">17%</span>
<span class="t" style="left:69.85px;top:1261.02px;font-size:11.80px;color:#2c3e50;-webkit-text-stroke:0.35px #2c3e50;">A</span>
<span class="t" style="left:142.55px;top:1261.02px;font-size:11.80px;color:#2c3e50;-webkit-text-stroke:0.35px #2c3e50;">B</span>
<span class="t" style="left:214.75px;top:1261.02px;font-size:11.80px;color:#2c3e50;-webkit-text-stroke:0.35px #2c3e50;">C</span>
<span class="t" style="left:287.95px;top:1261.02px;font-size:11.80px;color:#2c3e50;-webkit-text-stroke:0.35px #2c3e50;">D</span>
<span class="t" style="left:360.65px;top:1261.02px;font-size:11.80px;color:#2c3e50;-webkit-text-stroke:0.35px #2c3e50;">E</span>
<div class="s" style="left:512.90px;top:961.60px;width:674.5px;height:380.3px;background:#fff"></div>
<span class="t" style="left:679.56px;top:995.02px;font-size:28.00px;color:#2c3e50;font-weight:700;letter-spacing:-0.772px;">Risk Management Diagram</span>
<span class="t" style="left:596.31px;top:1031.02px;font-size:12.40px;color:#bbbbbb;letter-spacing:-0.049px;">Marketing is the study and management of exchange relationships. Marketing is the business</span>
<span class="t" style="left:679.06px;top:1047.02px;font-size:12.40px;color:#bbbbbb;letter-spacing:-0.063px;">process of creating relationships with and satisfying customers.</span>
<div style="left:550.31px;top:1082.10px;width:136.66px;height:52.2px;border-radius:26.1px;background:#b5e045"></div>
<span class="t" style="left:594.83px;top:1102.02px;font-size:13.20px;color:#fff;font-weight:700;letter-spacing:-0.541px;">Develop</span>
<svg width="30.73" height="8" viewBox="0 0 30.73 8" style="left:688.26px;top:1104.20px"><path d="M0,4 H25.73" stroke="#b0b4ba" stroke-width=".9" fill="none"/><path d="M24.53,1.9 L28.73,4 L24.53,6.1 Z" fill="#b0b4ba"/></svg>
<div style="left:550.31px;top:1140.20px;width:136.66px;height:52.2px;border-radius:26.1px;background:#fdd865"></div>
<span class="t" style="left:596.83px;top:1160.02px;font-size:13.20px;color:#fff;font-weight:700;letter-spacing:-0.918px;">Analyze</span>
<svg width="30.73" height="8" viewBox="0 0 30.73 8" style="left:688.26px;top:1162.30px"><path d="M0,4 H25.73" stroke="#b0b4ba" stroke-width=".9" fill="none"/><path d="M24.53,1.9 L28.73,4 L24.53,6.1 Z" fill="#b0b4ba"/></svg>
<div style="left:550.31px;top:1198.30px;width:136.66px;height:52.2px;border-radius:26.1px;background:#fcc107"></div>
<span class="t" style="left:596.83px;top:1220.02px;font-size:13.20px;color:#fff;font-weight:700;letter-spacing:-0.508px;">Identify</span>
<svg width="30.73" height="8" viewBox="0 0 30.73 8" style="left:688.26px;top:1220.40px"><path d="M0,4 H25.73" stroke="#b0b4ba" stroke-width=".9" fill="none"/><path d="M24.53,1.9 L28.73,4 L24.53,6.1 Z" fill="#b0b4ba"/></svg>
<div style="left:550.31px;top:1256.40px;width:136.66px;height:52.2px;border-radius:26.1px;background:#fa6b64"></div>
<span class="t" style="left:591.83px;top:1277.02px;font-size:13.20px;color:#fff;font-weight:700;letter-spacing:-0.721px;">Advertise</span>
<svg width="30.73" height="8" viewBox="0 0 30.73 8" style="left:688.26px;top:1278.50px"><path d="M0,4 H25.73" stroke="#b0b4ba" stroke-width=".9" fill="none"/><path d="M24.53,1.9 L28.73,4 L24.53,6.1 Z" fill="#b0b4ba"/></svg>
<div style="left:728.56px;top:1108.30px;width:88.28px;height:176.50px;background:#b5e045;"></div>
<span class="t" style="left:748.50px;top:1166.02px;font-size:9.30px;color:#fff;letter-spacing:0.125px;opacity:0.45;">Promotions</span>
<span class="t" style="left:745.75px;top:1178.02px;font-size:9.30px;color:#fff;letter-spacing:0.180px;opacity:0.45;">only work as</span>
<span class="t" style="left:750.75px;top:1190.02px;font-size:9.30px;color:#fff;letter-spacing:0.125px;opacity:0.45;">well as the</span>
<span class="t" style="left:744.25px;top:1202.02px;font-size:9.30px;color:#fff;letter-spacing:0.286px;opacity:0.45;">marketing, to</span>
<span class="t" style="left:755.50px;top:1214.02px;font-size:9.30px;color:#fff;letter-spacing:0.143px;opacity:0.45;">get your</span>
<span class="t" style="left:749.25px;top:1226.02px;font-size:9.30px;color:#fff;letter-spacing:0.081px;opacity:0.45;">company’s.</span>
<svg width="17.86" height="8" viewBox="0 0 17.86 8" style="left:816.84px;top:1193.90px"><path d="M0,4 H12.86" stroke="#b0b4ba" stroke-width=".9" fill="none"/><path d="M11.66,1.9 L15.86,4 L11.66,6.1 Z" fill="#b0b4ba"/></svg>
<div style="left:839.78px;top:1108.30px;width:88.28px;height:176.50px;background:#fdd865;"></div>
<span class="t" style="left:859.72px;top:1166.02px;font-size:9.30px;color:#fff;letter-spacing:0.125px;opacity:0.45;">Promotions</span>
<span class="t" style="left:856.97px;top:1178.02px;font-size:9.30px;color:#fff;letter-spacing:0.180px;opacity:0.45;">only work as</span>
<span class="t" style="left:861.97px;top:1190.02px;font-size:9.30px;color:#fff;letter-spacing:0.125px;opacity:0.45;">well as the</span>
<span class="t" style="left:855.47px;top:1202.02px;font-size:9.30px;color:#fff;letter-spacing:0.286px;opacity:0.45;">marketing, to</span>
<span class="t" style="left:866.72px;top:1214.02px;font-size:9.30px;color:#fff;letter-spacing:0.143px;opacity:0.45;">get your</span>
<span class="t" style="left:860.47px;top:1226.02px;font-size:9.30px;color:#fff;letter-spacing:0.081px;opacity:0.45;">company’s.</span>
<svg width="17.86" height="8" viewBox="0 0 17.86 8" style="left:928.06px;top:1193.90px"><path d="M0,4 H12.86" stroke="#b0b4ba" stroke-width=".9" fill="none"/><path d="M11.66,1.9 L15.86,4 L11.66,6.1 Z" fill="#b0b4ba"/></svg>
<div style="left:950.70px;top:1108.30px;width:88.28px;height:176.50px;background:#fcc107;"></div>
<span class="t" style="left:970.64px;top:1166.02px;font-size:9.30px;color:#fff;letter-spacing:0.125px;opacity:0.45;">Promotions</span>
<span class="t" style="left:967.89px;top:1178.02px;font-size:9.30px;color:#fff;letter-spacing:0.180px;opacity:0.45;">only work as</span>
<span class="t" style="left:972.89px;top:1190.02px;font-size:9.30px;color:#fff;letter-spacing:0.125px;opacity:0.45;">well as the</span>
<span class="t" style="left:966.39px;top:1202.02px;font-size:9.30px;color:#fff;letter-spacing:0.286px;opacity:0.45;">marketing, to</span>
<span class="t" style="left:977.64px;top:1214.02px;font-size:9.30px;color:#fff;letter-spacing:0.143px;opacity:0.45;">get your</span>
<span class="t" style="left:971.39px;top:1226.02px;font-size:9.30px;color:#fff;letter-spacing:0.081px;opacity:0.45;">company’s.</span>
<svg width="17.86" height="8" viewBox="0 0 17.86 8" style="left:1038.98px;top:1193.90px"><path d="M0,4 H12.86" stroke="#b0b4ba" stroke-width=".9" fill="none"/><path d="M11.66,1.9 L15.86,4 L11.66,6.1 Z" fill="#b0b4ba"/></svg>
<div style="left:1061.62px;top:1108.30px;width:88.28px;height:176.50px;background:#fa6b64;"></div>
<span class="t" style="left:1081.56px;top:1166.02px;font-size:9.30px;color:#fff;letter-spacing:0.125px;opacity:0.6;">Promotions</span>
<span class="t" style="left:1078.81px;top:1178.02px;font-size:9.30px;color:#fff;letter-spacing:0.180px;opacity:0.6;">only work as</span>
<span class="t" style="left:1083.81px;top:1190.02px;font-size:9.30px;color:#fff;letter-spacing:0.125px;opacity:0.6;">well as the</span>
<span class="t" style="left:1077.31px;top:1202.02px;font-size:9.30px;color:#fff;letter-spacing:0.286px;opacity:0.6;">marketing, to</span>
<span class="t" style="left:1088.56px;top:1214.02px;font-size:9.30px;color:#fff;letter-spacing:0.143px;opacity:0.6;">get your</span>
<span class="t" style="left:1082.31px;top:1226.02px;font-size:9.30px;color:#fff;letter-spacing:0.081px;opacity:0.6;">company’s.</span>
<div class="s" style="left:1225.50px;top:961.60px;width:675.3px;height:380.3px;background:#fff"></div>
<span class="t" style="left:1393.00px;top:995.02px;font-size:28.00px;color:#2c3e50;font-weight:700;letter-spacing:-0.772px;">Risk Management Diagram</span>
<span class="t" style="left:1309.35px;top:1032.02px;font-size:12.40px;color:#bbbbbb;letter-spacing:-0.049px;">Marketing is the study and management of exchange relationships. Marketing is the business</span>
<span class="t" style="left:1392.10px;top:1047.02px;font-size:12.40px;color:#bbbbbb;letter-spacing:-0.063px;">process of creating relationships with and satisfying customers.</span>
<div style="left:1279.90px;top:1079.40px;width:18.80px;height:18.80px;background:#b5e045;"></div>
<span class="t" style="left:1313.60px;top:1082.02px;font-size:12.20px;color:#2c3e50;font-weight:700;letter-spacing:-0.244px;">Develop</span>
<div style="left:1279.90px;top:1119.70px;width:18.80px;height:18.80px;background:#fdd865;"></div>
<span class="t" style="left:1313.60px;top:1124.02px;font-size:12.20px;color:#2c3e50;font-weight:700;letter-spacing:-0.297px;">Analyze</span>
<div style="left:1279.90px;top:1161.90px;width:18.80px;height:18.80px;background:#fcc107;"></div>
<span class="t" style="left:1313.60px;top:1166.02px;font-size:12.20px;color:#2c3e50;font-weight:700;letter-spacing:-0.080px;">Identify</span>
<div style="left:1279.90px;top:1203.10px;width:18.80px;height:18.80px;background:#fa6b64;"></div>
<span class="t" style="left:1313.60px;top:1208.02px;font-size:12.20px;color:#2c3e50;font-weight:700;letter-spacing:-0.283px;">Advertise</span>
<span class="t" style="left:1278.70px;top:1251.02px;font-size:9.40px;color:#c9c9c9;letter-spacing:0.153px;">To get your company’s</span>
<span class="t" style="left:1278.70px;top:1265.02px;font-size:9.40px;color:#c9c9c9;letter-spacing:0.146px;">name out there, you need</span>
<span class="t" style="left:1278.70px;top:1280.02px;font-size:9.40px;color:#c9c9c9;letter-spacing:0.067px;">to make sure.</span>
<div style="left:1438.80px;top:1079.00px;width:50.55px;height:30.10px;background:#b5e045;"></div>
<div style="left:1489.05px;top:1079.00px;width:50.55px;height:30.10px;background:#fdd865;"></div>
<div style="left:1539.30px;top:1079.00px;width:50.55px;height:30.10px;background:#fcc107;"></div>
<div style="left:1589.55px;top:1079.00px;width:50.55px;height:30.10px;background:#fa6b64;"></div>
<div style="left:1639.80px;top:1079.00px;width:201.30px;height:30.10px;background:#f2f2f3;"></div>
<div style="left:1438.80px;top:1108.80px;width:50.55px;height:30.10px;background:#b5e045;"></div>
<div style="left:1489.05px;top:1108.80px;width:50.55px;height:30.10px;background:#fdd865;"></div>
<div style="left:1539.30px;top:1108.80px;width:50.55px;height:30.10px;background:#fcc107;"></div>
<div style="left:1589.55px;top:1108.80px;width:50.55px;height:30.10px;background:#fa6b64;"></div>
<div style="left:1639.80px;top:1108.80px;width:201.30px;height:30.10px;background:#f2f2f3;"></div>
<div style="left:1438.80px;top:1138.60px;width:50.55px;height:30.10px;background:#b5e045;"></div>
<div style="left:1489.05px;top:1138.60px;width:50.55px;height:30.10px;background:#fdd865;"></div>
<div style="left:1539.30px;top:1138.60px;width:50.55px;height:30.10px;background:#fcc107;"></div>
<div style="left:1589.55px;top:1138.60px;width:50.55px;height:30.10px;background:#fa6b64;"></div>
<div style="left:1639.80px;top:1138.60px;width:201.30px;height:30.10px;background:#f2f2f3;"></div>
<div style="left:1438.80px;top:1168.40px;width:50.55px;height:30.10px;background:#b5e045;"></div>
<div style="left:1489.05px;top:1168.40px;width:50.55px;height:30.10px;background:#fdd865;"></div>
<div style="left:1539.30px;top:1168.40px;width:50.55px;height:30.10px;background:#fcc107;"></div>
<div style="left:1589.55px;top:1168.40px;width:251.55px;height:30.10px;background:#fa6b64;"></div>
<div style="left:1438.80px;top:1198.20px;width:50.55px;height:30.10px;background:#b5e045;"></div>
<div style="left:1489.05px;top:1198.20px;width:50.55px;height:30.10px;background:#fdd865;"></div>
<div style="left:1539.30px;top:1198.20px;width:301.80px;height:30.10px;background:#fcc107;"></div>
<div style="left:1438.80px;top:1228.00px;width:50.55px;height:30.10px;background:#b5e045;"></div>
<div style="left:1489.05px;top:1228.00px;width:352.05px;height:30.10px;background:#fdd865;"></div>
<div style="left:1438.80px;top:1257.80px;width:402.30px;height:30.10px;background:#b5e045;"></div>
<div style="left:1488.55px;top:1079.00px;width:1.00px;height:208.60px;background:rgba(255,255,255,.23);"></div>
<div style="left:1538.80px;top:1079.00px;width:1.00px;height:208.60px;background:rgba(255,255,255,.23);"></div>
<div style="left:1589.05px;top:1079.00px;width:1.00px;height:208.60px;background:rgba(255,255,255,.23);"></div>
<div style="left:1639.30px;top:1079.00px;width:1.00px;height:208.60px;background:rgba(255,255,255,.23);"></div>
<div style="left:1689.55px;top:1079.00px;width:1.00px;height:208.60px;background:rgba(255,255,255,.23);"></div>
<div style="left:1739.80px;top:1079.00px;width:1.00px;height:208.60px;background:rgba(255,255,255,.23);"></div>
<div style="left:1790.05px;top:1079.00px;width:1.00px;height:208.60px;background:rgba(255,255,255,.23);"></div>
<div style="left:1438.80px;top:1108.30px;width:402.00px;height:1.00px;background:rgba(255,255,255,.23);"></div>
<div style="left:1438.80px;top:1138.10px;width:402.00px;height:1.00px;background:rgba(255,255,255,.23);"></div>
<div style="left:1438.80px;top:1167.90px;width:402.00px;height:1.00px;background:rgba(255,255,255,.23);"></div>
<div style="left:1438.80px;top:1197.70px;width:402.00px;height:1.00px;background:rgba(255,255,255,.23);"></div>
<div style="left:1438.80px;top:1227.50px;width:402.00px;height:1.00px;background:rgba(255,255,255,.23);"></div>
<div style="left:1438.80px;top:1257.30px;width:402.00px;height:1.00px;background:rgba(255,255,255,.23);"></div>
<div style="left:1639.80px;top:1079.00px;width:201.30px;height:89.40px;background:#f2f2f3;"></div>
<span class="t" style="left:1692.00px;top:1099.02px;font-size:14.60px;color:#2c3e50;font-weight:700;letter-spacing:-0.023px;">That’s why we</span>
<span class="t" style="left:1680.75px;top:1117.02px;font-size:14.60px;color:#2c3e50;font-weight:700;letter-spacing:-0.063px;">provide point and</span>
<span class="t" style="left:1689.00px;top:1136.02px;font-size:14.60px;color:#2c3e50;font-weight:700;letter-spacing:-0.091px;">click solutions.</span>
<div style="left:1617.30px;top:1144.50px;width:43.6px;height:43.6px;border-radius:50%;background:#343e50"></div>
<span class="t" style="left:1623.60px;top:1158.02px;font-size:15.40px;color:#fff;font-weight:700;letter-spacing:-0.060px;">25%</span>
<div style="left:1568.20px;top:1175.70px;width:43.6px;height:43.6px;border-radius:50%;background:#343e50"></div>
<span class="t" style="left:1574.50px;top:1189.02px;font-size:15.40px;color:#fff;font-weight:700;letter-spacing:-0.060px;">40%</span>
<div style="left:1517.90px;top:1205.80px;width:43.6px;height:43.6px;border-radius:50%;background:#343e50"></div>
<span class="t" style="left:1524.20px;top:1220.02px;font-size:15.40px;color:#fff;font-weight:700;letter-spacing:-0.060px;">50%</span>
<div style="left:1467.00px;top:1236.40px;width:43.6px;height:43.6px;border-radius:50%;background:#343e50"></div>
<span class="t" style="left:1473.30px;top:1250.02px;font-size:15.40px;color:#fff;font-weight:700;letter-spacing:-0.060px;">75%</span>
<div class="s" style="left:-69.20px;top:1368.60px;width:676.4px;height:380.0px;background:#282828"></div>
<span class="t" style="left:144.90px;top:1387.02px;font-size:23.80px;color:#fff;letter-spacing:0.274px;">Risk Management Plan</span>
<span class="t" style="left:194.90px;top:1421.02px;font-size:9.20px;color:#fff;letter-spacing:-0.050px;-webkit-text-stroke:0.15px #fff;">Type The Subtitle Of Your Great Here</span>
<svg width="0" height="0" style="left:0;top:0"><defs><linearGradient id="gg" x1="0" y1="0" x2="1" y2="0"><stop offset="0" stop-color="#ec5131"/><stop offset=".25" stop-color="#f5901f"/><stop offset=".5" stop-color="#fdc70c"/><stop offset=".75" stop-color="#bcc632"/><stop offset="1" stop-color="#5bb748"/></linearGradient></defs></svg>
<div style="left:-26.30px;top:1457.60px;width:182.5px;height:259.1px;border-radius:31.5px;background:#414141"></div>
<svg width="180" height="110" viewBox="-25.05 1484.00 180 110" style="left:-25.05px;top:1484.00px"><clipPath id="gc0"><rect x="-25.05" y="1484.00" width="180" height="86.10"/></clipPath><g clip-path="url(#gc0)"><path d="M-8.10,1574.00 A73.05,73.05 0 0 1 138.00,1574.00 L113.40,1574.00 A48.45,48.45 0 0 0 16.50,1574.00 Z" fill="url(#gg)"/><path d="M-11.45,1574.00 L-15.65,1574.00 M-11.21,1568.01 L-15.40,1567.68 M-10.51,1562.05 L-14.66,1561.39 M-9.34,1556.16 L-13.42,1555.18 M-7.71,1550.39 L-11.71,1549.09 M-5.63,1544.76 L-9.51,1543.16 M-3.12,1539.32 L-6.87,1537.41 M-0.19,1534.08 L-3.77,1531.89 M3.14,1529.09 L-0.26,1526.62 M6.85,1524.38 L3.66,1521.65 M10.93,1519.98 L7.96,1517.01 M15.33,1515.90 L12.60,1512.71 M20.04,1512.19 L17.57,1508.79 M25.03,1508.86 L22.84,1505.28 M30.27,1505.93 L28.36,1502.18 M35.71,1503.42 L34.11,1499.54 M41.34,1501.34 L40.04,1497.34 M47.11,1499.71 L46.13,1495.63 M53.00,1498.54 L52.34,1494.39 M58.96,1497.84 L58.63,1493.65 M64.95,1497.60 L64.95,1493.40 M70.94,1497.84 L71.27,1493.65 M76.90,1498.54 L77.56,1494.39 M82.79,1499.71 L83.77,1495.63 M88.56,1501.34 L89.86,1497.34 M94.19,1503.42 L95.79,1499.54 M99.63,1505.93 L101.54,1502.18 M104.87,1508.86 L107.06,1505.28 M109.86,1512.19 L112.33,1508.79 M114.57,1515.90 L117.30,1512.71 M118.97,1519.98 L121.94,1517.01 M123.05,1524.38 L126.24,1521.65 M126.76,1529.09 L130.16,1526.62 M130.09,1534.08 L133.67,1531.89 M133.02,1539.32 L136.77,1537.41 M135.53,1544.76 L139.41,1543.16 M137.61,1550.39 L141.61,1549.09 M139.24,1556.16 L143.32,1555.18 M140.41,1562.05 L144.56,1561.39 M141.11,1568.01 L145.30,1567.68 M141.35,1574.00 L145.55,1574.00" stroke="#727272" stroke-width="1" fill="none"/></g><path d="M25.95,1552.70 L65.87,1572.54 L75.72,1580.14 L64.03,1575.86 Z" fill="#2b2b2b"/><circle cx="64.95" cy="1574.20" r="6.8" fill="#2c2c2c"/></svg>
<div style="left:5.85px;top:1595.30px;width:118.70px;height:31.30px;background:#dadada;"></div>
<span class="t" style="left:36.70px;top:1600.02px;font-size:22.00px;color:#3a3a3a;font-weight:700;letter-spacing:0.420px;">26.00</span>
<span class="t" style="left:-11.55px;top:1652.02px;font-size:9.00px;color:#f2f2f2;letter-spacing:0.146px;">This is a sample text. You simply add</span>
<span class="t" style="left:-7.80px;top:1669.02px;font-size:9.00px;color:#f2f2f2;letter-spacing:0.174px;">your own text and description here.</span>
<span class="t" style="left:14.45px;top:1686.02px;font-size:9.00px;color:#f2f2f2;letter-spacing:0.128px;">This text is fully editable.</span>
<div style="left:179.10px;top:1457.60px;width:182.5px;height:259.1px;border-radius:31.5px;background:#414141"></div>
<svg width="180" height="110" viewBox="180.35 1484.00 180 110" style="left:180.35px;top:1484.00px"><clipPath id="gc1"><rect x="180.35" y="1484.00" width="180" height="86.10"/></clipPath><g clip-path="url(#gc1)"><path d="M197.30,1574.00 A73.05,73.05 0 0 1 343.40,1574.00 L318.80,1574.00 A48.45,48.45 0 0 0 221.90,1574.00 Z" fill="url(#gg)"/><path d="M193.95,1574.00 L189.75,1574.00 M194.19,1568.01 L190.00,1567.68 M194.89,1562.05 L190.74,1561.39 M196.06,1556.16 L191.98,1555.18 M197.69,1550.39 L193.69,1549.09 M199.77,1544.76 L195.89,1543.16 M202.28,1539.32 L198.53,1537.41 M205.21,1534.08 L201.63,1531.89 M208.54,1529.09 L205.14,1526.62 M212.25,1524.38 L209.06,1521.65 M216.33,1519.98 L213.36,1517.01 M220.73,1515.90 L218.00,1512.71 M225.44,1512.19 L222.97,1508.79 M230.43,1508.86 L228.24,1505.28 M235.67,1505.93 L233.76,1502.18 M241.11,1503.42 L239.51,1499.54 M246.74,1501.34 L245.44,1497.34 M252.51,1499.71 L251.53,1495.63 M258.40,1498.54 L257.74,1494.39 M264.36,1497.84 L264.03,1493.65 M270.35,1497.60 L270.35,1493.40 M276.34,1497.84 L276.67,1493.65 M282.30,1498.54 L282.96,1494.39 M288.19,1499.71 L289.17,1495.63 M293.96,1501.34 L295.26,1497.34 M299.59,1503.42 L301.19,1499.54 M305.03,1505.93 L306.94,1502.18 M310.27,1508.86 L312.46,1505.28 M315.26,1512.19 L317.73,1508.79 M319.97,1515.90 L322.70,1512.71 M324.37,1519.98 L327.34,1517.01 M328.45,1524.38 L331.64,1521.65 M332.16,1529.09 L335.56,1526.62 M335.49,1534.08 L339.07,1531.89 M338.42,1539.32 L342.17,1537.41 M340.93,1544.76 L344.81,1543.16 M343.01,1550.39 L347.01,1549.09 M344.64,1556.16 L348.72,1555.18 M345.81,1562.05 L349.96,1561.39 M346.51,1568.01 L350.70,1567.68 M346.75,1574.00 L350.95,1574.00" stroke="#727272" stroke-width="1" fill="none"/></g><path d="M287.95,1535.00 L272.08,1574.98 L265.31,1585.42 L268.62,1573.42 Z" fill="#2b2b2b"/><circle cx="270.35" cy="1574.20" r="6.8" fill="#2c2c2c"/></svg>
<div style="left:211.25px;top:1595.30px;width:118.70px;height:31.30px;background:#dadada;"></div>
<span class="t" style="left:242.10px;top:1600.02px;font-size:22.00px;color:#3a3a3a;font-weight:700;letter-spacing:0.420px;">65.00</span>
<span class="t" style="left:193.85px;top:1652.02px;font-size:9.00px;color:#f2f2f2;letter-spacing:0.146px;">This is a sample text. You simply add</span>
<span class="t" style="left:197.60px;top:1669.02px;font-size:9.00px;color:#f2f2f2;letter-spacing:0.174px;">your own text and description here.</span>
<span class="t" style="left:219.85px;top:1686.02px;font-size:9.00px;color:#f2f2f2;letter-spacing:0.128px;">This text is fully editable.</span>
<div style="left:384.50px;top:1457.60px;width:182.5px;height:259.1px;border-radius:31.5px;background:#414141"></div>
<svg width="180" height="110" viewBox="385.75 1484.00 180 110" style="left:385.75px;top:1484.00px"><clipPath id="gc2"><rect x="385.75" y="1484.00" width="180" height="86.10"/></clipPath><g clip-path="url(#gc2)"><path d="M402.70,1574.00 A73.05,73.05 0 0 1 548.80,1574.00 L524.20,1574.00 A48.45,48.45 0 0 0 427.30,1574.00 Z" fill="url(#gg)"/><path d="M399.35,1574.00 L395.15,1574.00 M399.59,1568.01 L395.40,1567.68 M400.29,1562.05 L396.14,1561.39 M401.46,1556.16 L397.38,1555.18 M403.09,1550.39 L399.09,1549.09 M405.17,1544.76 L401.29,1543.16 M407.68,1539.32 L403.93,1537.41 M410.61,1534.08 L407.03,1531.89 M413.94,1529.09 L410.54,1526.62 M417.65,1524.38 L414.46,1521.65 M421.73,1519.98 L418.76,1517.01 M426.13,1515.90 L423.40,1512.71 M430.84,1512.19 L428.37,1508.79 M435.83,1508.86 L433.64,1505.28 M441.07,1505.93 L439.16,1502.18 M446.51,1503.42 L444.91,1499.54 M452.14,1501.34 L450.84,1497.34 M457.91,1499.71 L456.93,1495.63 M463.80,1498.54 L463.14,1494.39 M469.76,1497.84 L469.43,1493.65 M475.75,1497.60 L475.75,1493.40 M481.74,1497.84 L482.07,1493.65 M487.70,1498.54 L488.36,1494.39 M493.59,1499.71 L494.57,1495.63 M499.36,1501.34 L500.66,1497.34 M504.99,1503.42 L506.59,1499.54 M510.43,1505.93 L512.34,1502.18 M515.67,1508.86 L517.86,1505.28 M520.66,1512.19 L523.13,1508.79 M525.37,1515.90 L528.10,1512.71 M529.77,1519.98 L532.74,1517.01 M533.85,1524.38 L537.04,1521.65 M537.56,1529.09 L540.96,1526.62 M540.89,1534.08 L544.47,1531.89 M543.82,1539.32 L547.57,1537.41 M546.33,1544.76 L550.21,1543.16 M548.41,1550.39 L552.41,1549.09 M550.04,1556.16 L554.12,1555.18 M551.21,1562.05 L555.36,1561.39 M551.91,1568.01 L556.10,1567.68 M552.15,1574.00 L556.35,1574.00" stroke="#727272" stroke-width="1" fill="none"/></g><path d="M448.45,1539.20 L477.25,1573.03 L483.31,1583.90 L474.25,1575.37 Z" fill="#2b2b2b"/><circle cx="475.75" cy="1574.20" r="6.8" fill="#2c2c2c"/></svg>
<div style="left:416.65px;top:1595.30px;width:118.70px;height:31.30px;background:#dadada;"></div>
<span class="t" style="left:447.50px;top:1600.02px;font-size:22.00px;color:#3a3a3a;font-weight:700;letter-spacing:0.420px;">30.00</span>
<span class="t" style="left:399.25px;top:1652.02px;font-size:9.00px;color:#f2f2f2;letter-spacing:0.146px;">This is a sample text. You simply add</span>
<span class="t" style="left:403.00px;top:1669.02px;font-size:9.00px;color:#f2f2f2;letter-spacing:0.174px;">your own text and description here.</span>
<span class="t" style="left:425.25px;top:1686.02px;font-size:9.00px;color:#f2f2f2;letter-spacing:0.128px;">This text is fully editable.</span>
<div class="s" style="left:644.80px;top:1368.60px;width:676.4px;height:380.0px;background:#fff"></div>
<span class="t" style="left:850.30px;top:1403.02px;font-size:25.60px;color:#0e1d5c;font-weight:700;letter-spacing:0.428px;font-family:'DejaVu Sans', 'Liberation Sans', sans-serif;">Risk Management</span>
<span class="t" style="left:729.35px;top:1439.02px;font-size:12.40px;color:#8b8b8b;letter-spacing:-0.049px;">Marketing is the study and management of exchange relationships. Marketing is the business</span>
<span class="t" style="left:812.10px;top:1454.02px;font-size:12.40px;color:#8b8b8b;letter-spacing:-0.063px;">process of creating relationships with and satisfying customers.</span>
<div style="left:698.90px;top:1500.60px;width:266.20px;height:208.60px;background:#f2f2f2;"></div>
<div style="left:730.90px;top:1521.70px;width:41.4px;height:41.4px;border-radius:50%;background:#e74c3c"></div>
<span class="t" style="left:747.00px;top:1535.02px;font-size:14.50px;color:#fff;">1</span>
<span class="t" style="left:781.60px;top:1521.02px;font-size:13.20px;color:#0e1d5c;font-weight:700;letter-spacing:0.135px;">Initiating</span>
<span class="t" style="left:781.60px;top:1542.02px;font-size:11.00px;color:#808080;letter-spacing:-0.165px;">Business professionals like you</span>
<span class="t" style="left:781.60px;top:1554.02px;font-size:11.00px;color:#808080;letter-spacing:0.075px;">connecting to share advice.</span>
<div style="left:730.90px;top:1588.10px;width:41.4px;height:41.4px;border-radius:50%;background:#f1c40f"></div>
<span class="t" style="left:747.50px;top:1601.02px;font-size:14.50px;color:#fff;">2</span>
<span class="t" style="left:781.60px;top:1586.02px;font-size:13.20px;color:#0e1d5c;font-weight:700;letter-spacing:0.025px;">Planning</span>
<span class="t" style="left:781.60px;top:1607.02px;font-size:11.00px;color:#808080;letter-spacing:-0.165px;">Business professionals like you</span>
<span class="t" style="left:781.60px;top:1620.02px;font-size:11.00px;color:#808080;letter-spacing:0.075px;">connecting to share advice.</span>
<div style="left:730.90px;top:1649.85px;width:41.4px;height:41.4px;border-radius:50%;background:#2ecc71"></div>
<span class="t" style="left:747.50px;top:1663.02px;font-size:14.50px;color:#fff;">3</span>
<span class="t" style="left:781.60px;top:1647.02px;font-size:13.20px;color:#0e1d5c;font-weight:700;letter-spacing:-0.271px;">Execution</span>
<span class="t" style="left:781.60px;top:1668.02px;font-size:11.00px;color:#808080;letter-spacing:-0.165px;">Business professionals like you</span>
<span class="t" style="left:781.60px;top:1681.02px;font-size:11.00px;color:#808080;letter-spacing:0.075px;">connecting to share advice.</span>
<div style="left:965.20px;top:1500.40px;width:201.50px;height:30.13px;background:#e74c3c;"></div>
<div style="left:1166.40px;top:1500.40px;width:50.60px;height:30.13px;background:#f1c40f;"></div>
<div style="left:1216.70px;top:1500.40px;width:50.60px;height:30.13px;background:#2ecc71;"></div>
<div style="left:965.20px;top:1530.23px;width:151.20px;height:30.13px;background:#e74c3c;"></div>
<div style="left:1116.10px;top:1530.23px;width:100.90px;height:30.13px;background:#f1c40f;"></div>
<div style="left:1216.70px;top:1530.23px;width:50.60px;height:30.13px;background:#2ecc71;"></div>
<div style="left:965.20px;top:1560.06px;width:100.90px;height:30.13px;background:#e74c3c;"></div>
<div style="left:1065.80px;top:1560.06px;width:151.20px;height:30.13px;background:#f1c40f;"></div>
<div style="left:1216.70px;top:1560.06px;width:50.60px;height:30.13px;background:#2ecc71;"></div>
<div style="left:965.20px;top:1589.89px;width:100.90px;height:30.13px;background:#e74c3c;"></div>
<div style="left:1065.80px;top:1589.89px;width:100.90px;height:30.13px;background:#f1c40f;"></div>
<div style="left:1166.40px;top:1589.89px;width:100.90px;height:30.13px;background:#2ecc71;"></div>
<div style="left:965.20px;top:1619.72px;width:50.60px;height:30.13px;background:#e74c3c;"></div>
<div style="left:1015.50px;top:1619.72px;width:151.20px;height:30.13px;background:#f1c40f;"></div>
<div style="left:1166.40px;top:1619.72px;width:100.90px;height:30.13px;background:#2ecc71;"></div>
<div style="left:965.20px;top:1649.55px;width:50.60px;height:30.13px;background:#e74c3c;"></div>
<div style="left:1015.50px;top:1649.55px;width:151.20px;height:30.13px;background:#f1c40f;"></div>
<div style="left:1166.40px;top:1649.55px;width:100.90px;height:30.13px;background:#2ecc71;"></div>
<div style="left:965.20px;top:1679.38px;width:151.20px;height:30.13px;background:#f1c40f;"></div>
<div style="left:1116.10px;top:1679.38px;width:151.20px;height:30.13px;background:#2ecc71;"></div>
<div style="left:1015.00px;top:1500.40px;width:1.00px;height:208.81px;background:rgba(255,255,255,.32);"></div>
<div style="left:1065.30px;top:1500.40px;width:1.00px;height:208.81px;background:rgba(255,255,255,.32);"></div>
<div style="left:1115.60px;top:1500.40px;width:1.00px;height:208.81px;background:rgba(255,255,255,.32);"></div>
<div style="left:1165.90px;top:1500.40px;width:1.00px;height:208.81px;background:rgba(255,255,255,.32);"></div>
<div style="left:1216.20px;top:1500.40px;width:1.00px;height:208.81px;background:rgba(255,255,255,.32);"></div>
<div style="left:965.20px;top:1529.73px;width:301.80px;height:1.00px;background:rgba(255,255,255,.32);"></div>
<div style="left:965.20px;top:1559.56px;width:301.80px;height:1.00px;background:rgba(255,255,255,.32);"></div>
<div style="left:965.20px;top:1589.39px;width:301.80px;height:1.00px;background:rgba(255,255,255,.32);"></div>
<div style="left:965.20px;top:1619.22px;width:301.80px;height:1.00px;background:rgba(255,255,255,.32);"></div>
<div style="left:965.20px;top:1649.05px;width:301.80px;height:1.00px;background:rgba(255,255,255,.32);"></div>
<div style="left:965.20px;top:1678.88px;width:301.80px;height:1.00px;background:rgba(255,255,255,.32);"></div>
<span class="t" style="left:1037.15px;top:1540.02px;font-size:12.50px;color:#fff;-webkit-text-stroke:0.3px #fff;">2</span>
<span class="t" style="left:1238.35px;top:1540.02px;font-size:12.50px;color:#fff;-webkit-text-stroke:0.3px #fff;">3</span>
<span class="t" style="left:1087.45px;top:1630.02px;font-size:12.50px;color:#fff;-webkit-text-stroke:0.3px #fff;">3</span>
<span class="t" style="left:1188.05px;top:1630.02px;font-size:12.50px;color:#fff;-webkit-text-stroke:0.3px #fff;">1</span>
<span class="t" style="left:1037.15px;top:1660.02px;font-size:12.50px;color:#fff;-webkit-text-stroke:0.3px #fff;">2</span>
<span class="t" style="left:986.85px;top:1689.02px;font-size:12.50px;color:#fff;-webkit-text-stroke:0.3px #fff;">1</span>
<div class="s" style="left:1358.90px;top:1368.60px;width:676.4px;height:380.0px;background:#fff"></div>
<span class="t" style="left:1525.60px;top:1402.02px;font-size:28.00px;color:#2c3e50;font-weight:700;letter-spacing:-0.772px;">Risk Management Diagram</span>
<span class="t" style="left:1441.85px;top:1438.02px;font-size:12.40px;color:#bbbbbb;letter-spacing:-0.049px;">Marketing is the study and management of exchange relationships. Marketing is the business</span>
<span class="t" style="left:1524.60px;top:1454.02px;font-size:12.40px;color:#bbbbbb;letter-spacing:-0.063px;">process of creating relationships with and satisfying customers.</span>
<svg width="44" height="36" viewBox="-18 -18 44 36" style="left:1394.00px;top:1493.00px"><path d="M23.2,0 Q18,-4.2 11.9,-11.9 A16.8,16.8 0 1 0 11.9,11.9 Q18,4.2 23.2,0 Z" fill="#b5e045"/></svg>
<span class="t" style="left:1407.40px;top:1505.02px;font-size:15.20px;color:#fff;">1</span>
<span class="t" style="left:1445.20px;top:1491.02px;font-size:12.50px;color:#2c3e50;font-weight:700;letter-spacing:-0.665px;">Develop</span>
<span class="t" style="left:1445.20px;top:1510.02px;font-size:9.40px;color:#c6c6c6;letter-spacing:0.103px;">That’s why we provide point and click</span>
<span class="t" style="left:1445.20px;top:1525.02px;font-size:9.40px;color:#c6c6c6;letter-spacing:0.107px;">solutions that let you choose.</span>
<svg width="44" height="36" viewBox="-18 -18 44 36" style="left:1394.00px;top:1547.40px"><path d="M23.2,0 Q18,-4.2 11.9,-11.9 A16.8,16.8 0 1 0 11.9,11.9 Q18,4.2 23.2,0 Z" fill="#fdd865"/></svg>
<span class="t" style="left:1407.90px;top:1559.02px;font-size:15.20px;color:#fff;">2</span>
<span class="t" style="left:1445.20px;top:1545.02px;font-size:12.50px;color:#2c3e50;font-weight:700;letter-spacing:-0.465px;">Analyze</span>
<span class="t" style="left:1445.20px;top:1564.02px;font-size:9.40px;color:#c6c6c6;letter-spacing:0.103px;">That’s why we provide point and click</span>
<span class="t" style="left:1445.20px;top:1579.02px;font-size:9.40px;color:#c6c6c6;letter-spacing:0.107px;">solutions that let you choose.</span>
<svg width="44" height="36" viewBox="-18 -18 44 36" style="left:1394.00px;top:1601.20px"><path d="M23.2,0 Q18,-4.2 11.9,-11.9 A16.8,16.8 0 1 0 11.9,11.9 Q18,4.2 23.2,0 Z" fill="#fcc107"/></svg>
<span class="t" style="left:1407.90px;top:1613.02px;font-size:15.20px;color:#fff;">3</span>
<span class="t" style="left:1445.20px;top:1599.02px;font-size:12.50px;color:#2c3e50;font-weight:700;letter-spacing:-0.285px;">Identify</span>
<span class="t" style="left:1445.20px;top:1618.02px;font-size:9.40px;color:#c6c6c6;letter-spacing:0.103px;">That’s why we provide point and click</span>
<span class="t" style="left:1445.20px;top:1633.02px;font-size:9.40px;color:#c6c6c6;letter-spacing:0.107px;">solutions that let you choose.</span>
<svg width="44" height="36" viewBox="-18 -18 44 36" style="left:1394.00px;top:1655.80px"><path d="M23.2,0 Q18,-4.2 11.9,-11.9 A16.8,16.8 0 1 0 11.9,11.9 Q18,4.2 23.2,0 Z" fill="#fa6b64"/></svg>
<span class="t" style="left:1407.90px;top:1667.02px;font-size:15.20px;color:#fff;">4</span>
<span class="t" style="left:1445.20px;top:1654.02px;font-size:12.50px;color:#2c3e50;font-weight:700;letter-spacing:-0.490px;">Advertise</span>
<span class="t" style="left:1445.20px;top:1673.02px;font-size:9.40px;color:#c6c6c6;letter-spacing:0.103px;">That’s why we provide point and click</span>
<span class="t" style="left:1445.20px;top:1688.02px;font-size:9.40px;color:#c6c6c6;letter-spacing:0.107px;">solutions that let you choose.</span>
<div style="left:1637.80px;top:1488.30px;width:57.30px;height:30.10px;background:#b5e045;"></div>
<div style="left:1694.80px;top:1488.30px;width:171.30px;height:30.10px;background:#fdd865;"></div>
<div style="left:1865.80px;top:1488.30px;width:114.30px;height:30.10px;background:#fa6b64;"></div>
<div style="left:1637.80px;top:1518.10px;width:57.30px;height:30.10px;background:#b5e045;"></div>
<div style="left:1694.80px;top:1518.10px;width:171.30px;height:30.10px;background:#fdd865;"></div>
<div style="left:1865.80px;top:1518.10px;width:114.30px;height:30.10px;background:#fa6b64;"></div>
<div style="left:1637.80px;top:1547.90px;width:114.30px;height:30.10px;background:#b5e045;"></div>
<div style="left:1751.80px;top:1547.90px;width:114.30px;height:30.10px;background:#fdd865;"></div>
<div style="left:1865.80px;top:1547.90px;width:114.30px;height:30.10px;background:#fcc107;"></div>
<div style="left:1637.80px;top:1577.70px;width:114.30px;height:30.10px;background:#b5e045;"></div>
<div style="left:1751.80px;top:1577.70px;width:114.30px;height:30.10px;background:#fdd865;"></div>
<div style="left:1865.80px;top:1577.70px;width:114.30px;height:30.10px;background:#fcc107;"></div>
<div style="left:1637.80px;top:1607.50px;width:114.30px;height:30.10px;background:#b5e045;"></div>
<div style="left:1751.80px;top:1607.50px;width:114.30px;height:30.10px;background:#fdd865;"></div>
<div style="left:1865.80px;top:1607.50px;width:114.30px;height:30.10px;background:#fcc107;"></div>
<div style="left:1637.80px;top:1637.30px;width:114.30px;height:30.10px;background:#b5e045;"></div>
<div style="left:1751.80px;top:1637.30px;width:114.30px;height:30.10px;background:#fdd865;"></div>
<div style="left:1865.80px;top:1637.30px;width:114.30px;height:30.10px;background:#fcc107;"></div>
<div style="left:1637.80px;top:1667.10px;width:228.30px;height:30.10px;background:#b5e045;"></div>
<div style="left:1865.80px;top:1667.10px;width:114.30px;height:30.10px;background:#fcc107;"></div>
<div style="left:1694.30px;top:1488.30px;width:1.00px;height:208.60px;background:rgba(255,255,255,.32);"></div>
<div style="left:1751.30px;top:1488.30px;width:1.00px;height:208.60px;background:rgba(255,255,255,.32);"></div>
<div style="left:1808.30px;top:1488.30px;width:1.00px;height:208.60px;background:rgba(255,255,255,.32);"></div>
<div style="left:1865.30px;top:1488.30px;width:1.00px;height:208.60px;background:rgba(255,255,255,.32);"></div>
<div style="left:1922.30px;top:1488.30px;width:1.00px;height:208.60px;background:rgba(255,255,255,.32);"></div>
<div style="left:1637.80px;top:1517.60px;width:342.00px;height:1.00px;background:rgba(255,255,255,.32);"></div>
<div style="left:1637.80px;top:1547.40px;width:342.00px;height:1.00px;background:rgba(255,255,255,.32);"></div>
<div style="left:1637.80px;top:1577.20px;width:342.00px;height:1.00px;background:rgba(255,255,255,.32);"></div>
<div style="left:1637.80px;top:1607.00px;width:342.00px;height:1.00px;background:rgba(255,255,255,.32);"></div>
<div style="left:1637.80px;top:1636.80px;width:342.00px;height:1.00px;background:rgba(255,255,255,.32);"></div>
<div style="left:1637.80px;top:1666.60px;width:342.00px;height:1.00px;background:rgba(255,255,255,.32);"></div>
<span class="t" style="left:1662.80px;top:1498.02px;font-size:11.80px;color:#fff;font-weight:700;">1</span>
<span class="t" style="left:1719.80px;top:1498.02px;font-size:11.80px;color:#fff;font-weight:700;">2</span>
<span class="t" style="left:1776.80px;top:1498.02px;font-size:11.80px;color:#fff;font-weight:700;">2</span>
<span class="t" style="left:1833.80px;top:1498.02px;font-size:11.80px;color:#fff;font-weight:700;">3</span>
<span class="t" style="left:1890.80px;top:1498.02px;font-size:11.80px;color:#fff;font-weight:700;">4</span>
<span class="t" style="left:1947.80px;top:1498.02px;font-size:11.80px;color:#fff;font-weight:700;">4</span>
<span class="t" style="left:1662.80px;top:1528.02px;font-size:11.80px;color:#fff;font-weight:700;">1</span>
<span class="t" style="left:1719.80px;top:1528.02px;font-size:11.80px;color:#fff;font-weight:700;">2</span>
<span class="t" style="left:1776.80px;top:1528.02px;font-size:11.80px;color:#fff;font-weight:700;">2</span>
<span class="t" style="left:1833.80px;top:1528.02px;font-size:11.80px;color:#fff;font-weight:700;">2</span>
<span class="t" style="left:1890.80px;top:1528.02px;font-size:11.80px;color:#fff;font-weight:700;">4</span>
<span class="t" style="left:1947.80px;top:1528.02px;font-size:11.80px;color:#fff;font-weight:700;">4</span>
<span class="t" style="left:1662.80px;top:1558.02px;font-size:11.80px;color:#fff;font-weight:700;">2</span>
<span class="t" style="left:1719.80px;top:1558.02px;font-size:11.80px;color:#fff;font-weight:700;">1</span>
<span class="t" style="left:1776.80px;top:1558.02px;font-size:11.80px;color:#fff;font-weight:700;">2</span>
<span class="t" style="left:1833.80px;top:1558.02px;font-size:11.80px;color:#fff;font-weight:700;">2</span>
<span class="t" style="left:1890.80px;top:1558.02px;font-size:11.80px;color:#fff;font-weight:700;">3</span>
<span class="t" style="left:1947.80px;top:1558.02px;font-size:11.80px;color:#fff;font-weight:700;">3</span>
<span class="t" style="left:1662.80px;top:1588.02px;font-size:11.80px;color:#fff;font-weight:700;">1</span>
<span class="t" style="left:1719.80px;top:1588.02px;font-size:11.80px;color:#fff;font-weight:700;">1</span>
<span class="t" style="left:1776.80px;top:1588.02px;font-size:11.80px;color:#fff;font-weight:700;">2</span>
<span class="t" style="left:1833.80px;top:1588.02px;font-size:11.80px;color:#fff;font-weight:700;">2</span>
<span class="t" style="left:1890.80px;top:1588.02px;font-size:11.80px;color:#fff;font-weight:700;">3</span>
<span class="t" style="left:1947.80px;top:1588.02px;font-size:11.80px;color:#fff;font-weight:700;">3</span>
<span class="t" style="left:1662.80px;top:1618.02px;font-size:11.80px;color:#fff;font-weight:700;">1</span>
<span class="t" style="left:1719.80px;top:1618.02px;font-size:11.80px;color:#fff;font-weight:700;">1</span>
<span class="t" style="left:1776.80px;top:1618.02px;font-size:11.80px;color:#fff;font-weight:700;">2</span>
<span class="t" style="left:1833.80px;top:1618.02px;font-size:11.80px;color:#fff;font-weight:700;">2</span>
<span class="t" style="left:1890.80px;top:1618.02px;font-size:11.80px;color:#fff;font-weight:700;">3</span>
<span class="t" style="left:1947.80px;top:1618.02px;font-size:11.80px;color:#fff;font-weight:700;">3</span>
<span class="t" style="left:1662.80px;top:1647.02px;font-size:11.80px;color:#fff;font-weight:700;">1</span>
<span class="t" style="left:1719.80px;top:1647.02px;font-size:11.80px;color:#fff;font-weight:700;">1</span>
<span class="t" style="left:1776.80px;top:1647.02px;font-size:11.80px;color:#fff;font-weight:700;">2</span>
<span class="t" style="left:1833.80px;top:1647.02px;font-size:11.80px;color:#fff;font-weight:700;">2</span>
<span class="t" style="left:1890.80px;top:1647.02px;font-size:11.80px;color:#fff;font-weight:700;">3</span>
<span class="t" style="left:1947.80px;top:1647.02px;font-size:11.80px;color:#fff;font-weight:700;">3</span>
<span class="t" style="left:1662.80px;top:1677.02px;font-size:11.80px;color:#fff;font-weight:700;">1</span>
<span class="t" style="left:1719.80px;top:1677.02px;font-size:11.80px;color:#fff;font-weight:700;">1</span>
<span class="t" style="left:1776.80px;top:1677.02px;font-size:11.80px;color:#fff;font-weight:700;">1</span>
<span class="t" style="left:1833.80px;top:1677.02px;font-size:11.80px;color:#fff;font-weight:700;">1</span>
<span class="t" style="left:1890.80px;top:1677.02px;font-size:11.80px;color:#fff;font-weight:700;">2</span>
<span class="t" style="left:1947.80px;top:1677.02px;font-size:11.80px;color:#fff;font-weight:700;">2</span>
<span class="t" style="left:1828.50px;top:1753.02px;font-size:23.00px;color:#6f7074;">1</span>
</div></body></html>
